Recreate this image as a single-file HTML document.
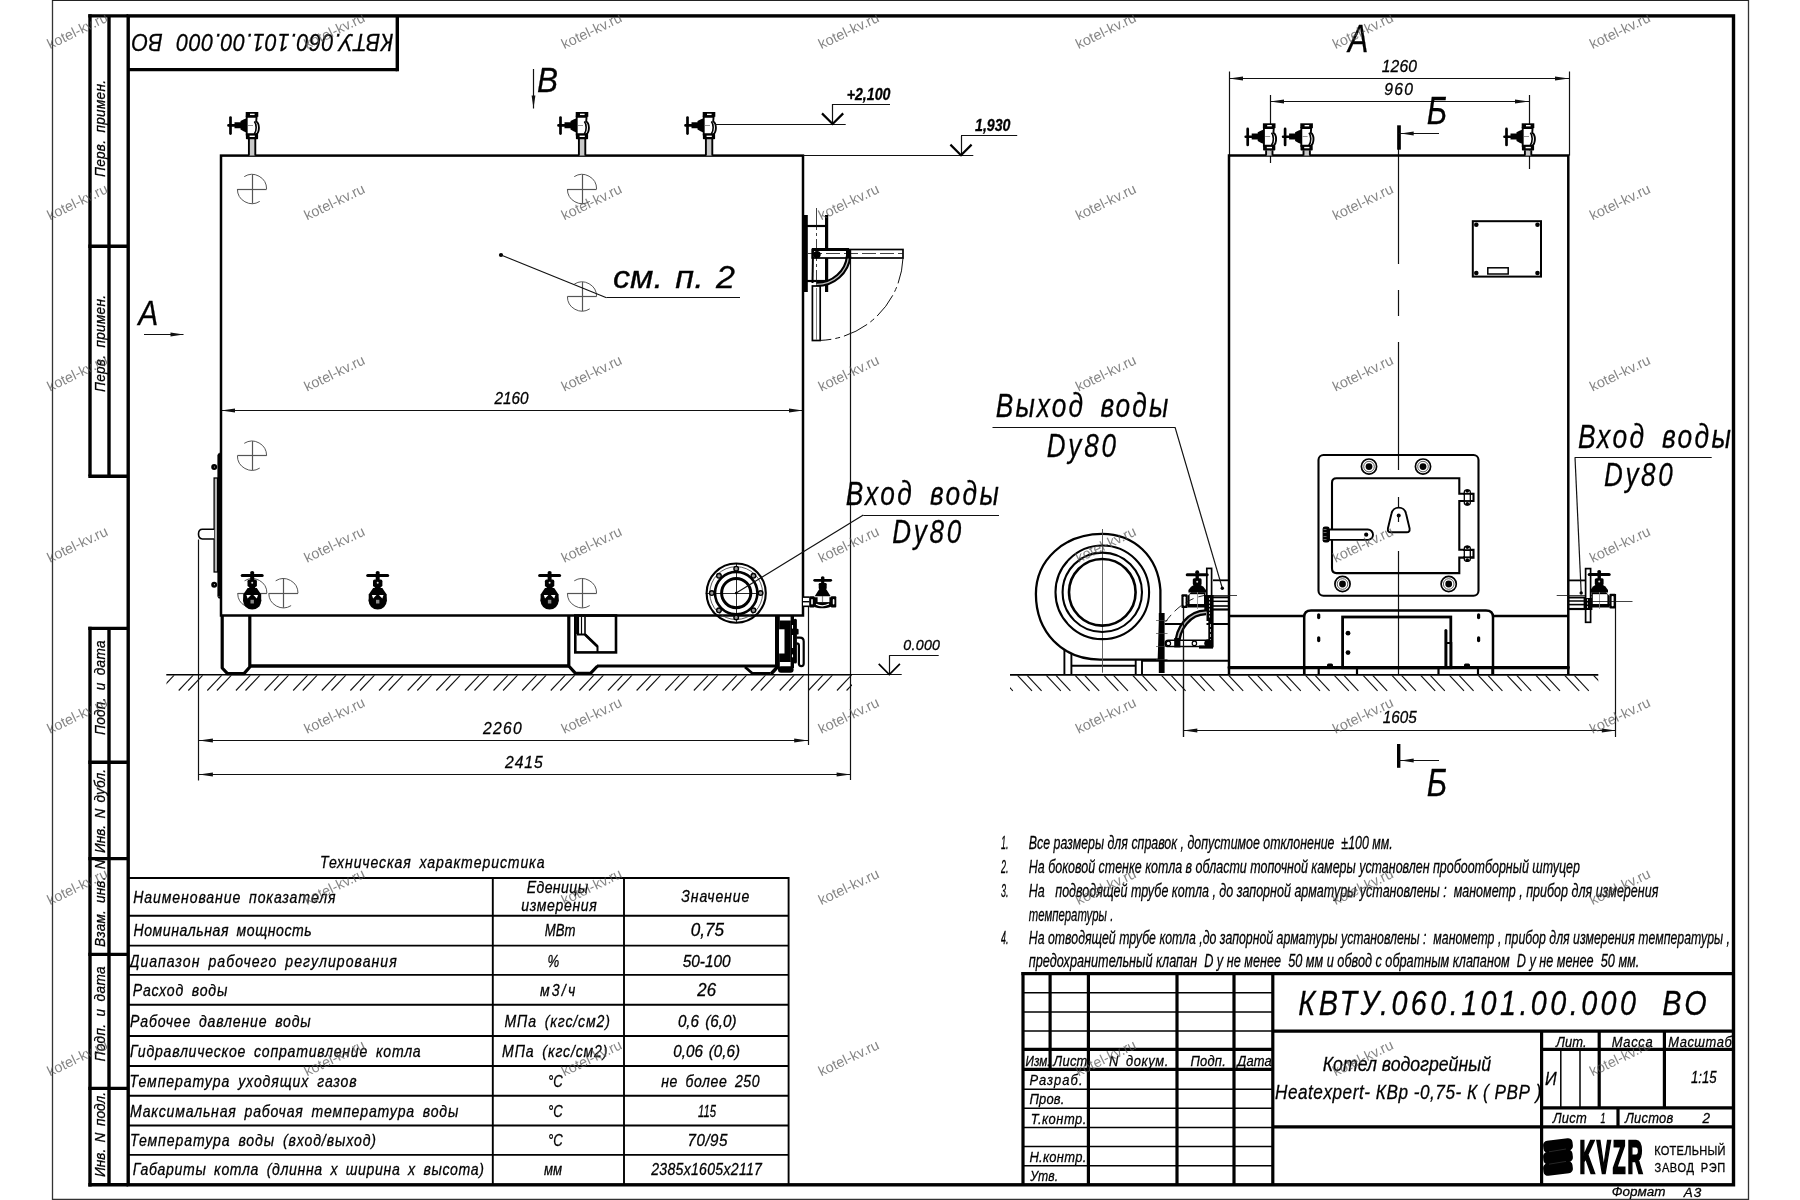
<!DOCTYPE html>
<html lang="ru"><head><meta charset="utf-8"><title>КВТУ.060.101.00.000 ВО</title>
<style>
html,body{margin:0;padding:0;background:#fff;}
body{width:1800px;height:1200px;overflow:hidden;}
svg{display:block;font-family:"Liberation Sans",sans-serif;}
text{white-space:pre;stroke:#000;stroke-width:0.3px;}
#wm text{stroke:none;}
</style></head><body>
<svg width="1800" height="1200" viewBox="0 0 1800 1200">
<rect x="0" y="0" width="1800" height="1200" fill="#fff"/>
<g opacity="0.999">
<line x1="198.50" y1="539.50" x2="198.50" y2="780.50" stroke="#111" stroke-width="1.2" />
<line x1="808.50" y1="607.00" x2="808.50" y2="745.00" stroke="#111" stroke-width="1.2" />
<line x1="850.50" y1="250.00" x2="850.50" y2="780.00" stroke="#111" stroke-width="1.2" />
<line x1="221.00" y1="410.50" x2="803.00" y2="410.50" stroke="#111" stroke-width="1.2" />
<polygon points="221.00,410.50 235.00,408.60 235.00,412.40" fill="#111"/>
<polygon points="803.00,410.50 789.00,412.40 789.00,408.60" fill="#111"/>
<text font-size="16.5" transform="translate(494.50 403.50) scale(0.9262 1)" textLength="36.71" lengthAdjust="spacing" font-style="italic" >2160</text>
<line x1="198.90" y1="740.50" x2="808.20" y2="740.50" stroke="#111" stroke-width="1.2" />
<polygon points="198.90,740.50 212.90,738.60 212.90,742.40" fill="#111"/>
<polygon points="808.20,740.50 794.20,742.40 794.20,738.60" fill="#111"/>
<text font-size="16.5" transform="translate(483.00 734.00) scale(0.9500 1)" textLength="40.74" lengthAdjust="spacing" font-style="italic" >2260</text>
<line x1="198.90" y1="774.50" x2="850.60" y2="774.50" stroke="#111" stroke-width="1.2" />
<polygon points="198.90,774.50 212.90,772.60 212.90,776.40" fill="#111"/>
<polygon points="850.60,774.50 836.60,776.40 836.60,772.60" fill="#111"/>
<text font-size="16.5" transform="translate(505.00 767.70) scale(0.9500 1)" textLength="39.68" lengthAdjust="spacing" font-style="italic" >2415</text>
<path d="M244.26,176.62 A14.6,14.6 0 0 1 266.60,189.00" stroke="#555" stroke-width="1" fill="none" />
<path d="M237.40,189.00 A14.6,14.6 0 0 0 259.74,201.38" stroke="#555" stroke-width="1" fill="none" />
<line x1="237.40" y1="189.50" x2="266.60" y2="189.50" stroke="#555" stroke-width="1.2" />
<line x1="252.50" y1="174.40" x2="252.50" y2="203.60" stroke="#555" stroke-width="1.2" />
<path d="M574.26,176.62 A14.6,14.6 0 0 1 596.60,189.00" stroke="#555" stroke-width="1" fill="none" />
<path d="M567.40,189.00 A14.6,14.6 0 0 0 589.74,201.38" stroke="#555" stroke-width="1" fill="none" />
<line x1="567.40" y1="189.50" x2="596.60" y2="189.50" stroke="#555" stroke-width="1.2" />
<line x1="582.50" y1="174.40" x2="582.50" y2="203.60" stroke="#555" stroke-width="1.2" />
<path d="M574.26,284.12 A14.6,14.6 0 0 1 596.60,296.50" stroke="#555" stroke-width="1" fill="none" />
<path d="M567.40,296.50 A14.6,14.6 0 0 0 589.74,308.88" stroke="#555" stroke-width="1" fill="none" />
<line x1="567.40" y1="296.50" x2="596.60" y2="296.50" stroke="#555" stroke-width="1.2" />
<line x1="582.50" y1="281.90" x2="582.50" y2="311.10" stroke="#555" stroke-width="1.2" />
<path d="M244.26,443.32 A14.6,14.6 0 0 1 266.60,455.70" stroke="#555" stroke-width="1" fill="none" />
<path d="M237.40,455.70 A14.6,14.6 0 0 0 259.74,468.08" stroke="#555" stroke-width="1" fill="none" />
<line x1="237.40" y1="455.50" x2="266.60" y2="455.50" stroke="#555" stroke-width="1.2" />
<line x1="252.50" y1="441.10" x2="252.50" y2="470.30" stroke="#555" stroke-width="1.2" />
<path d="M244.56,580.82 A14.6,14.6 0 0 1 266.90,593.20" stroke="#555" stroke-width="1" fill="none" />
<path d="M237.70,593.20 A14.6,14.6 0 0 0 260.04,605.58" stroke="#555" stroke-width="1" fill="none" />
<line x1="237.70" y1="593.50" x2="266.90" y2="593.50" stroke="#555" stroke-width="1.2" />
<line x1="252.50" y1="578.60" x2="252.50" y2="607.80" stroke="#555" stroke-width="1.2" />
<path d="M275.66,580.82 A14.6,14.6 0 0 1 298.00,593.20" stroke="#555" stroke-width="1" fill="none" />
<path d="M268.80,593.20 A14.6,14.6 0 0 0 291.14,605.58" stroke="#555" stroke-width="1" fill="none" />
<line x1="268.80" y1="593.50" x2="298.00" y2="593.50" stroke="#555" stroke-width="1.2" />
<line x1="283.50" y1="578.60" x2="283.50" y2="607.80" stroke="#555" stroke-width="1.2" />
<path d="M574.26,580.82 A14.6,14.6 0 0 1 596.60,593.20" stroke="#555" stroke-width="1" fill="none" />
<path d="M567.40,593.20 A14.6,14.6 0 0 0 589.74,605.58" stroke="#555" stroke-width="1" fill="none" />
<line x1="567.40" y1="593.50" x2="596.60" y2="593.50" stroke="#555" stroke-width="1.2" />
<line x1="582.50" y1="578.60" x2="582.50" y2="607.80" stroke="#555" stroke-width="1.2" />
<line x1="166.30" y1="674.70" x2="852.00" y2="674.70" stroke="#000" stroke-width="1.6" />
<line x1="852.00" y1="674.50" x2="901.70" y2="674.50" stroke="#111" stroke-width="1.2" />
<clipPath id="h166"><rect x="166.5" y="675.2" width="685.5" height="17.3"/></clipPath><g clip-path="url(#h166)">
<line x1="107.34" y1="675.20" x2="92.84" y2="690.50" stroke="#111" stroke-width="1.1" />
<line x1="116.94" y1="675.20" x2="102.44" y2="690.50" stroke="#111" stroke-width="1.1" />
<line x1="135.96" y1="675.20" x2="121.46" y2="690.50" stroke="#111" stroke-width="1.1" />
<line x1="145.56" y1="675.20" x2="131.06" y2="690.50" stroke="#111" stroke-width="1.1" />
<line x1="164.58" y1="675.20" x2="150.08" y2="690.50" stroke="#111" stroke-width="1.1" />
<line x1="174.18" y1="675.20" x2="159.68" y2="690.50" stroke="#111" stroke-width="1.1" />
<line x1="193.20" y1="675.20" x2="178.70" y2="690.50" stroke="#111" stroke-width="1.1" />
<line x1="202.80" y1="675.20" x2="188.30" y2="690.50" stroke="#111" stroke-width="1.1" />
<line x1="221.82" y1="675.20" x2="207.32" y2="690.50" stroke="#111" stroke-width="1.1" />
<line x1="231.42" y1="675.20" x2="216.92" y2="690.50" stroke="#111" stroke-width="1.1" />
<line x1="250.44" y1="675.20" x2="235.94" y2="690.50" stroke="#111" stroke-width="1.1" />
<line x1="260.04" y1="675.20" x2="245.54" y2="690.50" stroke="#111" stroke-width="1.1" />
<line x1="279.06" y1="675.20" x2="264.56" y2="690.50" stroke="#111" stroke-width="1.1" />
<line x1="288.66" y1="675.20" x2="274.16" y2="690.50" stroke="#111" stroke-width="1.1" />
<line x1="307.68" y1="675.20" x2="293.18" y2="690.50" stroke="#111" stroke-width="1.1" />
<line x1="317.28" y1="675.20" x2="302.78" y2="690.50" stroke="#111" stroke-width="1.1" />
<line x1="336.30" y1="675.20" x2="321.80" y2="690.50" stroke="#111" stroke-width="1.1" />
<line x1="345.90" y1="675.20" x2="331.40" y2="690.50" stroke="#111" stroke-width="1.1" />
<line x1="364.92" y1="675.20" x2="350.42" y2="690.50" stroke="#111" stroke-width="1.1" />
<line x1="374.52" y1="675.20" x2="360.02" y2="690.50" stroke="#111" stroke-width="1.1" />
<line x1="393.54" y1="675.20" x2="379.04" y2="690.50" stroke="#111" stroke-width="1.1" />
<line x1="403.14" y1="675.20" x2="388.64" y2="690.50" stroke="#111" stroke-width="1.1" />
<line x1="422.16" y1="675.20" x2="407.66" y2="690.50" stroke="#111" stroke-width="1.1" />
<line x1="431.76" y1="675.20" x2="417.26" y2="690.50" stroke="#111" stroke-width="1.1" />
<line x1="450.78" y1="675.20" x2="436.28" y2="690.50" stroke="#111" stroke-width="1.1" />
<line x1="460.38" y1="675.20" x2="445.88" y2="690.50" stroke="#111" stroke-width="1.1" />
<line x1="479.40" y1="675.20" x2="464.90" y2="690.50" stroke="#111" stroke-width="1.1" />
<line x1="489.00" y1="675.20" x2="474.50" y2="690.50" stroke="#111" stroke-width="1.1" />
<line x1="508.02" y1="675.20" x2="493.52" y2="690.50" stroke="#111" stroke-width="1.1" />
<line x1="517.62" y1="675.20" x2="503.12" y2="690.50" stroke="#111" stroke-width="1.1" />
<line x1="536.64" y1="675.20" x2="522.14" y2="690.50" stroke="#111" stroke-width="1.1" />
<line x1="546.24" y1="675.20" x2="531.74" y2="690.50" stroke="#111" stroke-width="1.1" />
<line x1="565.26" y1="675.20" x2="550.76" y2="690.50" stroke="#111" stroke-width="1.1" />
<line x1="574.86" y1="675.20" x2="560.36" y2="690.50" stroke="#111" stroke-width="1.1" />
<line x1="593.88" y1="675.20" x2="579.38" y2="690.50" stroke="#111" stroke-width="1.1" />
<line x1="603.48" y1="675.20" x2="588.98" y2="690.50" stroke="#111" stroke-width="1.1" />
<line x1="622.50" y1="675.20" x2="608.00" y2="690.50" stroke="#111" stroke-width="1.1" />
<line x1="632.10" y1="675.20" x2="617.60" y2="690.50" stroke="#111" stroke-width="1.1" />
<line x1="651.12" y1="675.20" x2="636.62" y2="690.50" stroke="#111" stroke-width="1.1" />
<line x1="660.72" y1="675.20" x2="646.22" y2="690.50" stroke="#111" stroke-width="1.1" />
<line x1="679.74" y1="675.20" x2="665.24" y2="690.50" stroke="#111" stroke-width="1.1" />
<line x1="689.34" y1="675.20" x2="674.84" y2="690.50" stroke="#111" stroke-width="1.1" />
<line x1="708.36" y1="675.20" x2="693.86" y2="690.50" stroke="#111" stroke-width="1.1" />
<line x1="717.96" y1="675.20" x2="703.46" y2="690.50" stroke="#111" stroke-width="1.1" />
<line x1="736.98" y1="675.20" x2="722.48" y2="690.50" stroke="#111" stroke-width="1.1" />
<line x1="746.58" y1="675.20" x2="732.08" y2="690.50" stroke="#111" stroke-width="1.1" />
<line x1="765.60" y1="675.20" x2="751.10" y2="690.50" stroke="#111" stroke-width="1.1" />
<line x1="775.20" y1="675.20" x2="760.70" y2="690.50" stroke="#111" stroke-width="1.1" />
<line x1="794.22" y1="675.20" x2="779.72" y2="690.50" stroke="#111" stroke-width="1.1" />
<line x1="803.82" y1="675.20" x2="789.32" y2="690.50" stroke="#111" stroke-width="1.1" />
<line x1="822.84" y1="675.20" x2="808.34" y2="690.50" stroke="#111" stroke-width="1.1" />
<line x1="832.44" y1="675.20" x2="817.94" y2="690.50" stroke="#111" stroke-width="1.1" />
<line x1="851.46" y1="675.20" x2="836.96" y2="690.50" stroke="#111" stroke-width="1.1" />
<line x1="861.06" y1="675.20" x2="846.56" y2="690.50" stroke="#111" stroke-width="1.1" />
<line x1="880.08" y1="675.20" x2="865.58" y2="690.50" stroke="#111" stroke-width="1.1" />
<line x1="889.68" y1="675.20" x2="875.18" y2="690.50" stroke="#111" stroke-width="1.1" />
<line x1="908.70" y1="675.20" x2="894.20" y2="690.50" stroke="#111" stroke-width="1.1" />
<line x1="918.30" y1="675.20" x2="903.80" y2="690.50" stroke="#111" stroke-width="1.1" />
</g>
<rect x="221.00" y="155.60" width="582.00" height="459.90" rx="0" stroke="#000" stroke-width="2.5" fill="none" />
<line x1="803.00" y1="155.50" x2="973.30" y2="155.50" stroke="#111" stroke-width="1.2" />
<rect x="248.90" y="139.00" width="6.40" height="16.60" rx="0" stroke="none" stroke-width="0" fill="#c8c8c8" />
<line x1="248.90" y1="139.00" x2="248.90" y2="155.60" stroke="#000" stroke-width="1.9" />
<line x1="255.30" y1="139.00" x2="255.30" y2="155.60" stroke="#000" stroke-width="1.9" />
<rect x="245.70" y="112.00" width="12.60" height="4.80" rx="0" stroke="none" stroke-width="0" fill="#000" />
<rect x="250.00" y="113.70" width="4.60" height="1.40" rx="0" stroke="none" stroke-width="0" fill="#fff" />
<path d="M246.7,116.8 L246.7,134.5 L256.2,134.5 C259.8,132 259.8,123.5 256.2,121.5 L256.6,116.8 Z" stroke="#000" stroke-width="1.9" fill="#fff" />
<path d="M254.3,121.5 C256.8,124 256.8,131 254.3,134" stroke="#000" stroke-width="1.6" fill="none" />
<line x1="248.00" y1="125.50" x2="253.00" y2="125.50" stroke="#777" stroke-width="0.8" />
<rect x="245.90" y="133.60" width="12.20" height="5.60" rx="0.8" stroke="none" stroke-width="0" fill="#000" />
<rect x="249.60" y="135.60" width="5.20" height="1.40" rx="0" stroke="none" stroke-width="0" fill="#fff" />
<polygon points="247,118.2 247,132.8 244,131.6 240.5,129.6 240.5,128.2 234.5,128.2 234.5,122.2 240.5,122.2 240.5,121 244,119.2" fill="#000"/>
<rect x="227.20" y="124.10" width="8.80" height="2.60" rx="1.2" stroke="none" stroke-width="0" fill="#000" />
<line x1="230.50" y1="117.60" x2="230.50" y2="133.60" stroke="#000" stroke-width="2.7" stroke-linecap="round"/>
<rect x="578.90" y="139.00" width="6.40" height="16.60" rx="0" stroke="none" stroke-width="0" fill="#c8c8c8" />
<line x1="578.90" y1="139.00" x2="578.90" y2="155.60" stroke="#000" stroke-width="1.9" />
<line x1="585.30" y1="139.00" x2="585.30" y2="155.60" stroke="#000" stroke-width="1.9" />
<rect x="575.70" y="112.00" width="12.60" height="4.80" rx="0" stroke="none" stroke-width="0" fill="#000" />
<rect x="580.00" y="113.70" width="4.60" height="1.40" rx="0" stroke="none" stroke-width="0" fill="#fff" />
<path d="M576.7,116.8 L576.7,134.5 L586.2,134.5 C589.8,132 589.8,123.5 586.2,121.5 L586.6,116.8 Z" stroke="#000" stroke-width="1.9" fill="#fff" />
<path d="M584.3,121.5 C586.8,124 586.8,131 584.3,134" stroke="#000" stroke-width="1.6" fill="none" />
<line x1="578.00" y1="125.50" x2="583.00" y2="125.50" stroke="#777" stroke-width="0.8" />
<rect x="575.90" y="133.60" width="12.20" height="5.60" rx="0.8" stroke="none" stroke-width="0" fill="#000" />
<rect x="579.60" y="135.60" width="5.20" height="1.40" rx="0" stroke="none" stroke-width="0" fill="#fff" />
<polygon points="577,118.2 577,132.8 574,131.6 570.5,129.6 570.5,128.2 564.5,128.2 564.5,122.2 570.5,122.2 570.5,121 574,119.2" fill="#000"/>
<rect x="557.20" y="124.10" width="8.80" height="2.60" rx="1.2" stroke="none" stroke-width="0" fill="#000" />
<line x1="560.50" y1="117.60" x2="560.50" y2="133.60" stroke="#000" stroke-width="2.7" stroke-linecap="round"/>
<rect x="705.90" y="139.00" width="6.40" height="16.60" rx="0" stroke="none" stroke-width="0" fill="#c8c8c8" />
<line x1="705.90" y1="139.00" x2="705.90" y2="155.60" stroke="#000" stroke-width="1.9" />
<line x1="712.30" y1="139.00" x2="712.30" y2="155.60" stroke="#000" stroke-width="1.9" />
<rect x="702.70" y="112.00" width="12.60" height="4.80" rx="0" stroke="none" stroke-width="0" fill="#000" />
<rect x="707.00" y="113.70" width="4.60" height="1.40" rx="0" stroke="none" stroke-width="0" fill="#fff" />
<path d="M703.7,116.8 L703.7,134.5 L713.2,134.5 C716.8,132 716.8,123.5 713.2,121.5 L713.6,116.8 Z" stroke="#000" stroke-width="1.9" fill="#fff" />
<path d="M711.3,121.5 C713.8,124 713.8,131 711.3,134" stroke="#000" stroke-width="1.6" fill="none" />
<line x1="705.00" y1="125.50" x2="710.00" y2="125.50" stroke="#777" stroke-width="0.8" />
<rect x="702.90" y="133.60" width="12.20" height="5.60" rx="0.8" stroke="none" stroke-width="0" fill="#000" />
<rect x="706.60" y="135.60" width="5.20" height="1.40" rx="0" stroke="none" stroke-width="0" fill="#fff" />
<polygon points="704,118.2 704,132.8 701,131.6 697.5,129.6 697.5,128.2 691.5,128.2 691.5,122.2 697.5,122.2 697.5,121 701,119.2" fill="#000"/>
<rect x="684.20" y="124.10" width="8.80" height="2.60" rx="1.2" stroke="none" stroke-width="0" fill="#000" />
<line x1="687.50" y1="117.60" x2="687.50" y2="133.60" stroke="#000" stroke-width="2.7" stroke-linecap="round"/>
<line x1="715.00" y1="124.50" x2="845.70" y2="124.50" stroke="#111" stroke-width="1.2" />
<line x1="832.50" y1="124.40" x2="832.50" y2="104.00" stroke="#111" stroke-width="1.2" />
<line x1="832.60" y1="104.50" x2="890.00" y2="104.50" stroke="#111" stroke-width="1.2" />
<path d="M822.0,113.4 L832.6,124.0 L843.2,113.4" stroke="#000" stroke-width="2.2" fill="none" />
<text font-size="16" transform="translate(846.70 99.60) scale(0.8869 1)" textLength="49.38" lengthAdjust="spacing" font-style="italic" font-weight="bold" >+2,100</text>
<line x1="961.50" y1="155.60" x2="961.50" y2="135.80" stroke="#111" stroke-width="1.2" />
<line x1="961.00" y1="135.50" x2="1017.20" y2="135.50" stroke="#111" stroke-width="1.2" />
<path d="M950.4,144.6 L961,155.2 L971.6,144.6" stroke="#000" stroke-width="2.2" fill="none" />
<text font-size="16" transform="translate(975.00 130.80) scale(0.8866 1)" textLength="40.04" lengthAdjust="spacing" font-style="italic" font-weight="bold" >1,930</text>
<circle cx="252.20" cy="573.10" r="2.10" stroke="none" stroke-width="0" fill="#000" />
<line x1="242.20" y1="575.50" x2="262.20" y2="575.50" stroke="#000" stroke-width="3" stroke-linecap="round"/>
<rect x="250.20" y="575.50" width="4.00" height="5.00" rx="0" stroke="none" stroke-width="0" fill="#000" />
<rect x="247.50" y="579.60" width="9.40" height="7.30" rx="1.6" stroke="none" stroke-width="0" fill="#000" />
<circle cx="252.20" cy="582.80" r="1.00" stroke="none" stroke-width="0" fill="#ddd" />
<rect x="249.20" y="586.00" width="6.00" height="3.50" rx="0" stroke="none" stroke-width="0" fill="#000" />
<polygon points="247.6,588.1 256.8,588.1 261.2,594.5 261.2,601.5 243.2,601.5 243.2,594.5" fill="#000"/>
<circle cx="252.20" cy="600.50" r="9.10" stroke="none" stroke-width="0" fill="#000" />
<polygon points="246.39999999999998,595.1 251.0,595.1 247.6,598.5" fill="#fff"/>
<polygon points="258.0,595.1 253.39999999999998,595.1 256.8,598.5" fill="#fff"/>
<rect x="250.50" y="599.80" width="3.40" height="3.70" rx="0" stroke="none" stroke-width="0" fill="#8a8a8a" />
<circle cx="377.70" cy="573.10" r="2.10" stroke="none" stroke-width="0" fill="#000" />
<line x1="367.70" y1="575.50" x2="387.70" y2="575.50" stroke="#000" stroke-width="3" stroke-linecap="round"/>
<rect x="375.70" y="575.50" width="4.00" height="5.00" rx="0" stroke="none" stroke-width="0" fill="#000" />
<rect x="373.00" y="579.60" width="9.40" height="7.30" rx="1.6" stroke="none" stroke-width="0" fill="#000" />
<circle cx="377.70" cy="582.80" r="1.00" stroke="none" stroke-width="0" fill="#ddd" />
<rect x="374.70" y="586.00" width="6.00" height="3.50" rx="0" stroke="none" stroke-width="0" fill="#000" />
<polygon points="373.09999999999997,588.1 382.3,588.1 386.7,594.5 386.7,601.5 368.7,601.5 368.7,594.5" fill="#000"/>
<circle cx="377.70" cy="600.50" r="9.10" stroke="none" stroke-width="0" fill="#000" />
<polygon points="371.9,595.1 376.5,595.1 373.09999999999997,598.5" fill="#fff"/>
<polygon points="383.5,595.1 378.9,595.1 382.3,598.5" fill="#fff"/>
<rect x="376.00" y="599.80" width="3.40" height="3.70" rx="0" stroke="none" stroke-width="0" fill="#8a8a8a" />
<circle cx="549.60" cy="573.10" r="2.10" stroke="none" stroke-width="0" fill="#000" />
<line x1="539.60" y1="575.50" x2="559.60" y2="575.50" stroke="#000" stroke-width="3" stroke-linecap="round"/>
<rect x="547.60" y="575.50" width="4.00" height="5.00" rx="0" stroke="none" stroke-width="0" fill="#000" />
<rect x="544.90" y="579.60" width="9.40" height="7.30" rx="1.6" stroke="none" stroke-width="0" fill="#000" />
<circle cx="549.60" cy="582.80" r="1.00" stroke="none" stroke-width="0" fill="#ddd" />
<rect x="546.60" y="586.00" width="6.00" height="3.50" rx="0" stroke="none" stroke-width="0" fill="#000" />
<polygon points="545.0,588.1 554.2,588.1 558.6,594.5 558.6,601.5 540.6,601.5 540.6,594.5" fill="#000"/>
<circle cx="549.60" cy="600.50" r="9.10" stroke="none" stroke-width="0" fill="#000" />
<polygon points="543.8000000000001,595.1 548.4,595.1 545.0,598.5" fill="#fff"/>
<polygon points="555.4,595.1 550.8000000000001,595.1 554.2,598.5" fill="#fff"/>
<rect x="547.90" y="599.80" width="3.40" height="3.70" rx="0" stroke="none" stroke-width="0" fill="#8a8a8a" />
<path d="M222.2,615.5 L222.2,668 L227.5,673.6 L244,673.6 L249.8,667 L249.8,615.5" stroke="#000" stroke-width="3.2" fill="none" stroke-linejoin="round"/>
<line x1="249.80" y1="666.00" x2="568.80" y2="666.00" stroke="#000" stroke-width="3.4" />
<line x1="597.00" y1="666.00" x2="776.00" y2="666.00" stroke="#000" stroke-width="3.2" />
<path d="M568.8,615.5 L568.8,666 L575.5,673.4 L590.5,673.4 L597.5,666" stroke="#000" stroke-width="3.2" fill="none" stroke-linejoin="round"/>
<rect x="575.30" y="615.50" width="40.70" height="36.90" rx="0" stroke="#000" stroke-width="2.6" fill="none" />
<line x1="577.60" y1="617.00" x2="577.60" y2="634.00" stroke="#000" stroke-width="3" />
<line x1="581.50" y1="617.00" x2="581.50" y2="634.00" stroke="#000" stroke-width="1.2" />
<line x1="585.00" y1="617.00" x2="585.00" y2="634.00" stroke="#000" stroke-width="1.6" />
<path d="M577,634.5 L585,634.5 L597.5,646.5 L597.5,652" stroke="#000" stroke-width="2" fill="none" />
<path d="M585,634.5 L597.5,646.5" stroke="#000" stroke-width="2.6" fill="none" />
<path d="M745,667 L752.5,673.5 L770.5,673.5" stroke="#000" stroke-width="2.8" fill="none" stroke-linejoin="round"/>
<rect x="775.00" y="615.50" width="4.80" height="53.00" rx="0" stroke="none" stroke-width="0" fill="#000" />
<path d="M777.4,667 L771,674" stroke="#000" stroke-width="3.4" fill="none" />
<rect x="779.60" y="620.50" width="11.20" height="41.50" rx="0" stroke="none" stroke-width="0" fill="#000" />
<rect x="778.60" y="629.30" width="5.90" height="24.20" rx="0" stroke="none" stroke-width="0" fill="#fff" />
<rect x="775.00" y="616.00" width="4.00" height="52.00" rx="0" stroke="none" stroke-width="0" fill="#000" />
<rect x="790.60" y="616.00" width="3.40" height="52.00" rx="0" stroke="none" stroke-width="0" fill="#000" />
<rect x="793.60" y="618.80" width="3.30" height="44.80" rx="1.5" stroke="none" stroke-width="0" fill="#000" />
<rect x="796.00" y="628.80" width="2.60" height="5.80" rx="1.2" stroke="none" stroke-width="0" fill="#000" />
<line x1="792.50" y1="625.00" x2="792.50" y2="628.60" stroke="#fff" stroke-width="1.1" />
<line x1="792.50" y1="635.00" x2="792.50" y2="648.00" stroke="#fff" stroke-width="1.1" />
<line x1="792.50" y1="654.40" x2="792.50" y2="657.30" stroke="#fff" stroke-width="1.1" />
<path d="M796.5,637.7 L800,637.7 Q803.7,637.7 803.7,641.6 L803.7,663.6 Q803.7,666.2 801.3,666.2 Q798.9,666.2 798.9,663.6 L798.9,645.4 Q798.9,643.3 796.5,643.3" stroke="#000" stroke-width="2.2" fill="none" />
<rect x="778.00" y="666.30" width="15.60" height="6.50" rx="3" stroke="none" stroke-width="0" fill="#000" />
<line x1="705.70" y1="593.50" x2="757.20" y2="593.50" stroke="#111" stroke-width="0.9" />
<line x1="736.50" y1="563.60" x2="736.50" y2="622.60" stroke="#111" stroke-width="0.9" />
<circle cx="736.20" cy="593.10" r="29.60" stroke="#000" stroke-width="2.1" fill="none" />
<circle cx="736.20" cy="593.10" r="26.40" stroke="#333" stroke-width="0.8" fill="none" />
<circle cx="736.20" cy="593.10" r="21.20" stroke="#000" stroke-width="2.6" fill="none" />
<circle cx="736.20" cy="593.10" r="14.60" stroke="#000" stroke-width="3" fill="none" />
<circle cx="760.60" cy="593.10" r="2.30" stroke="#000" stroke-width="1.4" fill="#999" />
<circle cx="753.45" cy="610.35" r="2.30" stroke="#000" stroke-width="1.4" fill="#999" />
<circle cx="736.20" cy="617.50" r="2.30" stroke="#000" stroke-width="1.4" fill="#999" />
<circle cx="718.95" cy="610.35" r="2.30" stroke="#000" stroke-width="1.4" fill="#999" />
<circle cx="711.80" cy="593.10" r="2.30" stroke="#000" stroke-width="1.4" fill="#999" />
<circle cx="718.95" cy="575.85" r="2.30" stroke="#000" stroke-width="1.4" fill="#999" />
<circle cx="736.20" cy="568.70" r="2.30" stroke="#000" stroke-width="1.4" fill="#999" />
<circle cx="753.45" cy="575.85" r="2.30" stroke="#000" stroke-width="1.4" fill="#999" />
<line x1="736.20" y1="593.10" x2="863.30" y2="515.00" stroke="#111" stroke-width="1.2" />
<line x1="863.30" y1="515.50" x2="999.00" y2="515.50" stroke="#111" stroke-width="1.2" />
<circle cx="736.20" cy="593.10" r="1.30" stroke="none" stroke-width="0" fill="#000" />
<text font-size="32.8" word-spacing="7.22" transform="translate(845.80 505.20) scale(0.8000 1)" textLength="191.38" lengthAdjust="spacing" font-style="italic" >Вход воды</text>
<text font-size="32.5" transform="translate(892.20 543.30) scale(0.8000 1)" textLength="86.12" lengthAdjust="spacing" font-style="italic" >Dy80</text>
<rect x="803.00" y="597.10" width="6.50" height="9.20" rx="0" stroke="none" stroke-width="0" fill="#fff" />
<line x1="803.00" y1="597.10" x2="809.50" y2="597.10" stroke="#000" stroke-width="1.6" />
<line x1="803.00" y1="606.30" x2="809.50" y2="606.30" stroke="#000" stroke-width="1.6" />
<line x1="803.00" y1="601.70" x2="809.50" y2="601.70" stroke="#000" stroke-width="1.4" />
<rect x="809.20" y="596.20" width="5.40" height="11.30" rx="1" stroke="none" stroke-width="0" fill="#000" />
<rect x="811.20" y="599.10" width="1.60" height="5.40" rx="0.8" stroke="none" stroke-width="0" fill="#fff" />
<rect x="830.80" y="596.20" width="5.50" height="11.30" rx="1" stroke="none" stroke-width="0" fill="#000" />
<rect x="832.80" y="599.10" width="1.60" height="5.40" rx="0.8" stroke="none" stroke-width="0" fill="#fff" />
<path d="M814,597.2 L831,597.2 L831,606.7 C825,608.9000000000001 819,608.9000000000001 814,606.7 Z" stroke="none" stroke-width="0" fill="#000" />
<rect x="817.60" y="596.10" width="11.80" height="6.00" rx="0" stroke="none" stroke-width="0" fill="#fff" />
<line x1="822.50" y1="596.10" x2="822.50" y2="602.10" stroke="#888" stroke-width="1.2" />
<path d="M816,604.3000000000001 C820,606.3000000000001 825,606.1 829,604.1" stroke="#fff" stroke-width="1.1" fill="none" />
<polygon points="820.1,587.7 825.3000000000001,587.7 830.7,596.2 814.7,596.2" fill="#000"/>
<rect x="818.70" y="583.10" width="8.00" height="6.00" rx="1.2" stroke="none" stroke-width="0" fill="#000" />
<rect x="821.10" y="580.20" width="3.20" height="4.50" rx="0" stroke="none" stroke-width="0" fill="#000" />
<line x1="814.70" y1="580.30" x2="830.70" y2="580.30" stroke="#000" stroke-width="2.8" stroke-linecap="round"/>
<circle cx="822.70" cy="578.10" r="1.90" stroke="none" stroke-width="0" fill="#000" />
<line x1="889.50" y1="674.90" x2="889.50" y2="655.30" stroke="#111" stroke-width="1.2" />
<line x1="889.30" y1="655.50" x2="938.70" y2="655.50" stroke="#111" stroke-width="1.2" />
<path d="M878.6999999999999,663.9 L889.3,674.5 L899.9,663.9" stroke="#000" stroke-width="1.7" fill="none" />
<text font-size="15" transform="translate(903.30 650.00) scale(0.9500 1)" textLength="38.63" lengthAdjust="spacing" font-style="italic" >0.000</text>
<rect x="217.40" y="455.00" width="3.60" height="141.70" rx="0" stroke="none" stroke-width="0" fill="#000" />
<path d="M217.4,455 L219.2,452.5 L221,455 Z M217.4,596.7 L219.2,599 L221,596.7 Z" stroke="none" stroke-width="0" fill="#000" />
<rect x="214.10" y="478.00" width="3.50" height="94.00" rx="0" stroke="#000" stroke-width="1.3" fill="#bbb" />
<circle cx="214.20" cy="467.00" r="3.00" stroke="none" stroke-width="0" fill="#000" />
<circle cx="214.20" cy="584.70" r="3.00" stroke="none" stroke-width="0" fill="#000" />
<circle cx="214.40" cy="467.00" r="0.60" stroke="none" stroke-width="0" fill="#ccc" />
<circle cx="214.40" cy="584.70" r="0.60" stroke="none" stroke-width="0" fill="#ccc" />
<path d="M214.1,529.3 L202.4,529.3 Q198.5,529.3 198.5,534.1 Q198.5,539 202.4,539 L214.1,539" stroke="#000" stroke-width="1.6" fill="#fff" />
<rect x="803.00" y="215.00" width="4.80" height="77.00" rx="0" stroke="none" stroke-width="0" fill="#000" />
<rect x="825.00" y="215.00" width="3.20" height="77.00" rx="0" stroke="none" stroke-width="0" fill="#000" />
<line x1="807.00" y1="226.00" x2="826.00" y2="226.00" stroke="#000" stroke-width="2.2" />
<line x1="807.00" y1="281.00" x2="826.00" y2="281.00" stroke="#000" stroke-width="2.2" />
<line x1="816.50" y1="208.00" x2="816.50" y2="286.00" stroke="#111" stroke-width="0.8" stroke-dasharray="22 3 3 3"/>
<rect x="812.20" y="249.50" width="90.80" height="8.50" rx="0" stroke="#000" stroke-width="1.7" fill="#fff" />
<line x1="850.00" y1="249.50" x2="850.00" y2="258.00" stroke="#000" stroke-width="1.7" />
<line x1="808.00" y1="253.50" x2="903.00" y2="253.50" stroke="#111" stroke-width="0.8" stroke-dasharray="14 4"/>
<path d="M812,249.5 L849,249.5" stroke="#000" stroke-width="3" fill="none" />
<path d="M848.6,256 A32,31 0 0 1 816.5,284.4" stroke="#000" stroke-width="5.4" fill="none" />
<path d="M848.6,256 A32,31 0 0 1 816.5,284.4" stroke="#bbb" stroke-width="1.3" fill="none" />
<rect x="846.00" y="249.50" width="5.20" height="9.10" rx="0" stroke="none" stroke-width="0" fill="#000" />
<circle cx="817.00" cy="254.60" r="2.80" stroke="#000" stroke-width="1.8" fill="#000" />
<path d="M813,250 L812.5,283" stroke="#000" stroke-width="2" fill="none" />
<rect x="812.40" y="286.00" width="7.80" height="54.50" rx="0" stroke="#000" stroke-width="1.7" fill="#fff" />
<line x1="816.50" y1="288.00" x2="816.50" y2="340.00" stroke="#666" stroke-width="0.8" />
<path d="M903,258 A86,86 0 0 1 820.5,340.4" stroke="#111" stroke-width="1" fill="none" stroke-dasharray="26 4 5 4"/>
<circle cx="501.00" cy="255.00" r="2.10" stroke="none" stroke-width="0" fill="#000" />
<line x1="501.00" y1="255.00" x2="606.50" y2="297.70" stroke="#111" stroke-width="1.2" />
<line x1="606.50" y1="297.50" x2="740.00" y2="297.50" stroke="#111" stroke-width="1.2" />
<text font-size="30.5" word-spacing="2.56" transform="translate(613.00 288.00) scale(1.1200 1)" textLength="108.93" lengthAdjust="spacing" font-style="italic" >см. п. 2</text>
<text font-size="35.5" transform="translate(138.30 325.00) scale(0.8446 1)" textLength="23.68" lengthAdjust="spacing" font-style="italic" >А</text>
<line x1="144.00" y1="334.50" x2="183.50" y2="334.50" stroke="#111" stroke-width="1.2" />
<polygon points="183.50,334.50 170.50,336.40 170.50,332.60" fill="#111"/>
<text font-size="35.5" transform="translate(537.00 92.00) scale(0.8868 1)" textLength="23.68" lengthAdjust="spacing" font-style="italic" >В</text>
<line x1="533.50" y1="69.00" x2="533.50" y2="108.50" stroke="#111" stroke-width="1.2" />
<polygon points="533.50,108.50 531.60,95.50 535.40,95.50" fill="#111"/>
<line x1="1229.50" y1="71.50" x2="1229.50" y2="155.60" stroke="#111" stroke-width="1.2" />
<line x1="1569.50" y1="71.50" x2="1569.50" y2="155.60" stroke="#111" stroke-width="1.2" />
<line x1="1270.50" y1="95.00" x2="1270.50" y2="163.00" stroke="#111" stroke-width="1.2" />
<line x1="1529.50" y1="95.00" x2="1529.50" y2="169.00" stroke="#111" stroke-width="1.2" />
<line x1="1229.00" y1="78.50" x2="1569.00" y2="78.50" stroke="#111" stroke-width="1.2" />
<polygon points="1229.00,78.50 1243.00,76.60 1243.00,80.40" fill="#111"/>
<polygon points="1569.00,78.50 1555.00,80.40 1555.00,76.60" fill="#111"/>
<text font-size="16.5" transform="translate(1381.70 71.50) scale(0.9500 1)" textLength="37.16" lengthAdjust="spacing" font-style="italic" >1260</text>
<line x1="1270.00" y1="101.50" x2="1529.00" y2="101.50" stroke="#111" stroke-width="1.2" />
<polygon points="1270.00,101.50 1284.00,99.60 1284.00,103.40" fill="#111"/>
<polygon points="1529.00,101.50 1515.00,103.40 1515.00,99.60" fill="#111"/>
<text font-size="16.5" transform="translate(1384.30 95.30) scale(0.9500 1)" textLength="30.21" lengthAdjust="spacing" font-style="italic" >960</text>
<text font-size="38" transform="translate(1348.00 52.00) scale(0.8009 1)" textLength="25.35" lengthAdjust="spacing" font-style="italic" >А</text>
<line x1="1398.50" y1="149.00" x2="1398.50" y2="264.00" stroke="#111" stroke-width="1.2" />
<line x1="1398.50" y1="290.00" x2="1398.50" y2="316.00" stroke="#111" stroke-width="1.2" />
<line x1="1398.50" y1="342.00" x2="1398.50" y2="470.00" stroke="#111" stroke-width="1.2" />
<line x1="1398.50" y1="497.00" x2="1398.50" y2="524.00" stroke="#111" stroke-width="1.2" />
<line x1="1398.50" y1="551.00" x2="1398.50" y2="674.50" stroke="#111" stroke-width="1.2" />
<line x1="1399.00" y1="125.30" x2="1399.00" y2="149.70" stroke="#000" stroke-width="3.7" />
<line x1="1398.70" y1="133.50" x2="1439.00" y2="133.50" stroke="#111" stroke-width="1.2" />
<polygon points="1400.70,133.50 1413.70,131.60 1413.70,135.40" fill="#111"/>
<text font-size="38" transform="translate(1426.70 124.00) scale(0.8208 1)" textLength="24.73" lengthAdjust="spacing" font-style="italic" >Б</text>
<line x1="1398.70" y1="744.00" x2="1398.70" y2="767.80" stroke="#000" stroke-width="3.4" />
<line x1="1398.70" y1="760.50" x2="1439.00" y2="760.50" stroke="#111" stroke-width="1.2" />
<polygon points="1400.70,760.50 1413.70,758.60 1413.70,762.40" fill="#111"/>
<text font-size="38" transform="translate(1426.70 795.80) scale(0.8208 1)" textLength="24.73" lengthAdjust="spacing" font-style="italic" >Б</text>
<line x1="1010.00" y1="674.80" x2="1598.30" y2="674.80" stroke="#000" stroke-width="1.7" />
<clipPath id="h1010"><rect x="1010" y="675.3" width="588.3" height="17.5"/></clipPath><g clip-path="url(#h1010)">
<line x1="931.10" y1="675.30" x2="945.60" y2="690.80" stroke="#111" stroke-width="1.1" />
<line x1="940.70" y1="675.30" x2="955.20" y2="690.80" stroke="#111" stroke-width="1.1" />
<line x1="959.90" y1="675.30" x2="974.40" y2="690.80" stroke="#111" stroke-width="1.1" />
<line x1="969.50" y1="675.30" x2="984.00" y2="690.80" stroke="#111" stroke-width="1.1" />
<line x1="988.70" y1="675.30" x2="1003.20" y2="690.80" stroke="#111" stroke-width="1.1" />
<line x1="998.30" y1="675.30" x2="1012.80" y2="690.80" stroke="#111" stroke-width="1.1" />
<line x1="1017.50" y1="675.30" x2="1032.00" y2="690.80" stroke="#111" stroke-width="1.1" />
<line x1="1027.10" y1="675.30" x2="1041.60" y2="690.80" stroke="#111" stroke-width="1.1" />
<line x1="1046.30" y1="675.30" x2="1060.80" y2="690.80" stroke="#111" stroke-width="1.1" />
<line x1="1055.90" y1="675.30" x2="1070.40" y2="690.80" stroke="#111" stroke-width="1.1" />
<line x1="1075.10" y1="675.30" x2="1089.60" y2="690.80" stroke="#111" stroke-width="1.1" />
<line x1="1084.70" y1="675.30" x2="1099.20" y2="690.80" stroke="#111" stroke-width="1.1" />
<line x1="1103.90" y1="675.30" x2="1118.40" y2="690.80" stroke="#111" stroke-width="1.1" />
<line x1="1113.50" y1="675.30" x2="1128.00" y2="690.80" stroke="#111" stroke-width="1.1" />
<line x1="1132.70" y1="675.30" x2="1147.20" y2="690.80" stroke="#111" stroke-width="1.1" />
<line x1="1142.30" y1="675.30" x2="1156.80" y2="690.80" stroke="#111" stroke-width="1.1" />
<line x1="1161.50" y1="675.30" x2="1176.00" y2="690.80" stroke="#111" stroke-width="1.1" />
<line x1="1171.10" y1="675.30" x2="1185.60" y2="690.80" stroke="#111" stroke-width="1.1" />
<line x1="1190.30" y1="675.30" x2="1204.80" y2="690.80" stroke="#111" stroke-width="1.1" />
<line x1="1199.90" y1="675.30" x2="1214.40" y2="690.80" stroke="#111" stroke-width="1.1" />
<line x1="1219.10" y1="675.30" x2="1233.60" y2="690.80" stroke="#111" stroke-width="1.1" />
<line x1="1228.70" y1="675.30" x2="1243.20" y2="690.80" stroke="#111" stroke-width="1.1" />
<line x1="1247.90" y1="675.30" x2="1262.40" y2="690.80" stroke="#111" stroke-width="1.1" />
<line x1="1257.50" y1="675.30" x2="1272.00" y2="690.80" stroke="#111" stroke-width="1.1" />
<line x1="1276.70" y1="675.30" x2="1291.20" y2="690.80" stroke="#111" stroke-width="1.1" />
<line x1="1286.30" y1="675.30" x2="1300.80" y2="690.80" stroke="#111" stroke-width="1.1" />
<line x1="1305.50" y1="675.30" x2="1320.00" y2="690.80" stroke="#111" stroke-width="1.1" />
<line x1="1315.10" y1="675.30" x2="1329.60" y2="690.80" stroke="#111" stroke-width="1.1" />
<line x1="1334.30" y1="675.30" x2="1348.80" y2="690.80" stroke="#111" stroke-width="1.1" />
<line x1="1343.90" y1="675.30" x2="1358.40" y2="690.80" stroke="#111" stroke-width="1.1" />
<line x1="1363.10" y1="675.30" x2="1377.60" y2="690.80" stroke="#111" stroke-width="1.1" />
<line x1="1372.70" y1="675.30" x2="1387.20" y2="690.80" stroke="#111" stroke-width="1.1" />
<line x1="1391.90" y1="675.30" x2="1406.40" y2="690.80" stroke="#111" stroke-width="1.1" />
<line x1="1401.50" y1="675.30" x2="1416.00" y2="690.80" stroke="#111" stroke-width="1.1" />
<line x1="1420.70" y1="675.30" x2="1435.20" y2="690.80" stroke="#111" stroke-width="1.1" />
<line x1="1430.30" y1="675.30" x2="1444.80" y2="690.80" stroke="#111" stroke-width="1.1" />
<line x1="1449.50" y1="675.30" x2="1464.00" y2="690.80" stroke="#111" stroke-width="1.1" />
<line x1="1459.10" y1="675.30" x2="1473.60" y2="690.80" stroke="#111" stroke-width="1.1" />
<line x1="1478.30" y1="675.30" x2="1492.80" y2="690.80" stroke="#111" stroke-width="1.1" />
<line x1="1487.90" y1="675.30" x2="1502.40" y2="690.80" stroke="#111" stroke-width="1.1" />
<line x1="1507.10" y1="675.30" x2="1521.60" y2="690.80" stroke="#111" stroke-width="1.1" />
<line x1="1516.70" y1="675.30" x2="1531.20" y2="690.80" stroke="#111" stroke-width="1.1" />
<line x1="1535.90" y1="675.30" x2="1550.40" y2="690.80" stroke="#111" stroke-width="1.1" />
<line x1="1545.50" y1="675.30" x2="1560.00" y2="690.80" stroke="#111" stroke-width="1.1" />
<line x1="1564.70" y1="675.30" x2="1579.20" y2="690.80" stroke="#111" stroke-width="1.1" />
<line x1="1574.30" y1="675.30" x2="1588.80" y2="690.80" stroke="#111" stroke-width="1.1" />
<line x1="1593.50" y1="675.30" x2="1608.00" y2="690.80" stroke="#111" stroke-width="1.1" />
<line x1="1603.10" y1="675.30" x2="1617.60" y2="690.80" stroke="#111" stroke-width="1.1" />
<line x1="1622.30" y1="675.30" x2="1636.80" y2="690.80" stroke="#111" stroke-width="1.1" />
<line x1="1631.90" y1="675.30" x2="1646.40" y2="690.80" stroke="#111" stroke-width="1.1" />
<line x1="1651.10" y1="675.30" x2="1665.60" y2="690.80" stroke="#111" stroke-width="1.1" />
<line x1="1660.70" y1="675.30" x2="1675.20" y2="690.80" stroke="#111" stroke-width="1.1" />
</g>
<line x1="1183.50" y1="608.00" x2="1183.50" y2="737.00" stroke="#111" stroke-width="1.2" />
<line x1="1615.50" y1="594.00" x2="1615.50" y2="737.00" stroke="#111" stroke-width="1.2" />
<line x1="1183.30" y1="730.50" x2="1615.80" y2="730.50" stroke="#111" stroke-width="1.2" />
<polygon points="1183.30,730.50 1197.30,728.60 1197.30,732.40" fill="#111"/>
<polygon points="1615.80,730.50 1601.80,732.40 1601.80,728.60" fill="#111"/>
<text font-size="16.5" transform="translate(1382.70 723.30) scale(0.9262 1)" textLength="36.71" lengthAdjust="spacing" font-style="italic" >1605</text>
<path d="M1229,667.9 L1229,155.6 L1568.3,155.6 L1568.3,667.9" stroke="#000" stroke-width="2.5" fill="none" />
<line x1="1229.00" y1="616.00" x2="1304.00" y2="616.00" stroke="#000" stroke-width="2.5" />
<line x1="1493.00" y1="616.00" x2="1568.30" y2="616.00" stroke="#000" stroke-width="2.5" />
<line x1="1227.80" y1="667.60" x2="1569.50" y2="667.60" stroke="#000" stroke-width="3.2" />
<line x1="1229.00" y1="667.00" x2="1229.00" y2="674.80" stroke="#000" stroke-width="2.5" />
<line x1="1568.30" y1="667.00" x2="1568.30" y2="674.80" stroke="#000" stroke-width="2.5" />
<line x1="1304.20" y1="668.00" x2="1304.20" y2="674.80" stroke="#000" stroke-width="2.2" />
<line x1="1318.70" y1="668.00" x2="1318.70" y2="674.80" stroke="#000" stroke-width="2.2" />
<line x1="1357.00" y1="668.00" x2="1357.00" y2="674.80" stroke="#000" stroke-width="2.2" />
<line x1="1438.50" y1="668.00" x2="1438.50" y2="674.80" stroke="#000" stroke-width="2.2" />
<line x1="1478.00" y1="668.00" x2="1478.00" y2="674.80" stroke="#000" stroke-width="2.2" />
<line x1="1492.40" y1="668.00" x2="1492.40" y2="674.80" stroke="#000" stroke-width="2.2" />
<rect x="1266.10" y="150.30" width="6.40" height="5.30" rx="0" stroke="none" stroke-width="0" fill="#c8c8c8" />
<line x1="1266.10" y1="150.30" x2="1266.10" y2="155.60" stroke="#000" stroke-width="1.9" />
<line x1="1272.50" y1="150.30" x2="1272.50" y2="155.60" stroke="#000" stroke-width="1.9" />
<rect x="1262.90" y="123.30" width="12.60" height="4.80" rx="0" stroke="none" stroke-width="0" fill="#000" />
<rect x="1267.20" y="125.00" width="4.60" height="1.40" rx="0" stroke="none" stroke-width="0" fill="#fff" />
<path d="M1263.9,128.1 L1263.9,145.8 L1273.4,145.8 C1277.0,143.3 1277.0,134.8 1273.4,132.8 L1273.8,128.1 Z" stroke="#000" stroke-width="1.9" fill="#fff" />
<path d="M1271.5,132.8 C1274.0,135.3 1274.0,142.3 1271.5,145.3" stroke="#000" stroke-width="1.6" fill="none" />
<line x1="1265.20" y1="136.50" x2="1270.20" y2="136.50" stroke="#777" stroke-width="0.8" />
<rect x="1263.10" y="144.90" width="12.20" height="5.60" rx="0.8" stroke="none" stroke-width="0" fill="#000" />
<rect x="1266.80" y="146.90" width="5.20" height="1.40" rx="0" stroke="none" stroke-width="0" fill="#fff" />
<polygon points="1264.2,129.5 1264.2,144.1 1261.2,142.9 1257.7,140.9 1257.7,139.5 1251.7,139.5 1251.7,133.5 1257.7,133.5 1257.7,132.3 1261.2,130.5" fill="#000"/>
<rect x="1244.40" y="135.40" width="8.80" height="2.60" rx="1.2" stroke="none" stroke-width="0" fill="#000" />
<line x1="1247.70" y1="128.90" x2="1247.70" y2="144.90" stroke="#000" stroke-width="2.7" stroke-linecap="round"/>
<rect x="1303.50" y="150.30" width="6.40" height="5.30" rx="0" stroke="none" stroke-width="0" fill="#c8c8c8" />
<line x1="1303.50" y1="150.30" x2="1303.50" y2="155.60" stroke="#000" stroke-width="1.9" />
<line x1="1309.90" y1="150.30" x2="1309.90" y2="155.60" stroke="#000" stroke-width="1.9" />
<rect x="1300.30" y="123.30" width="12.60" height="4.80" rx="0" stroke="none" stroke-width="0" fill="#000" />
<rect x="1304.60" y="125.00" width="4.60" height="1.40" rx="0" stroke="none" stroke-width="0" fill="#fff" />
<path d="M1301.3,128.1 L1301.3,145.8 L1310.8,145.8 C1314.3999999999999,143.3 1314.3999999999999,134.8 1310.8,132.8 L1311.1999999999998,128.1 Z" stroke="#000" stroke-width="1.9" fill="#fff" />
<path d="M1308.8999999999999,132.8 C1311.3999999999999,135.3 1311.3999999999999,142.3 1308.8999999999999,145.3" stroke="#000" stroke-width="1.6" fill="none" />
<line x1="1302.60" y1="136.50" x2="1307.60" y2="136.50" stroke="#777" stroke-width="0.8" />
<rect x="1300.50" y="144.90" width="12.20" height="5.60" rx="0.8" stroke="none" stroke-width="0" fill="#000" />
<rect x="1304.20" y="146.90" width="5.20" height="1.40" rx="0" stroke="none" stroke-width="0" fill="#fff" />
<polygon points="1301.6,129.5 1301.6,144.1 1298.6,142.9 1295.1,140.9 1295.1,139.5 1289.1,139.5 1289.1,133.5 1295.1,133.5 1295.1,132.3 1298.6,130.5" fill="#000"/>
<rect x="1281.80" y="135.40" width="8.80" height="2.60" rx="1.2" stroke="none" stroke-width="0" fill="#000" />
<line x1="1285.10" y1="128.90" x2="1285.10" y2="144.90" stroke="#000" stroke-width="2.7" stroke-linecap="round"/>
<rect x="1524.90" y="150.30" width="6.40" height="5.30" rx="0" stroke="none" stroke-width="0" fill="#c8c8c8" />
<line x1="1524.90" y1="150.30" x2="1524.90" y2="155.60" stroke="#000" stroke-width="1.9" />
<line x1="1531.30" y1="150.30" x2="1531.30" y2="155.60" stroke="#000" stroke-width="1.9" />
<rect x="1521.70" y="123.30" width="12.60" height="4.80" rx="0" stroke="none" stroke-width="0" fill="#000" />
<rect x="1526.00" y="125.00" width="4.60" height="1.40" rx="0" stroke="none" stroke-width="0" fill="#fff" />
<path d="M1522.7,128.1 L1522.7,145.8 L1532.2,145.8 C1535.8,143.3 1535.8,134.8 1532.2,132.8 L1532.6,128.1 Z" stroke="#000" stroke-width="1.9" fill="#fff" />
<path d="M1530.3,132.8 C1532.8,135.3 1532.8,142.3 1530.3,145.3" stroke="#000" stroke-width="1.6" fill="none" />
<line x1="1524.00" y1="136.50" x2="1529.00" y2="136.50" stroke="#777" stroke-width="0.8" />
<rect x="1521.90" y="144.90" width="12.20" height="5.60" rx="0.8" stroke="none" stroke-width="0" fill="#000" />
<rect x="1525.60" y="146.90" width="5.20" height="1.40" rx="0" stroke="none" stroke-width="0" fill="#fff" />
<polygon points="1523,129.5 1523,144.1 1520,142.9 1516.5,140.9 1516.5,139.5 1510.5,139.5 1510.5,133.5 1516.5,133.5 1516.5,132.3 1520,130.5" fill="#000"/>
<rect x="1503.20" y="135.40" width="8.80" height="2.60" rx="1.2" stroke="none" stroke-width="0" fill="#000" />
<line x1="1506.50" y1="128.90" x2="1506.50" y2="144.90" stroke="#000" stroke-width="2.7" stroke-linecap="round"/>
<rect x="1472.80" y="221.20" width="68.20" height="55.40" rx="0" stroke="#000" stroke-width="2" fill="none" />
<circle cx="1476.30" cy="224.80" r="2.30" stroke="none" stroke-width="0" fill="#000" />
<circle cx="1537.50" cy="224.80" r="2.30" stroke="none" stroke-width="0" fill="#000" />
<circle cx="1476.30" cy="273.00" r="2.30" stroke="none" stroke-width="0" fill="#000" />
<circle cx="1537.50" cy="273.00" r="2.30" stroke="none" stroke-width="0" fill="#000" />
<rect x="1487.80" y="267.80" width="20.40" height="6.20" rx="0" stroke="#000" stroke-width="1.5" fill="none" />
<rect x="1318.50" y="455.00" width="160.00" height="140.80" rx="5" stroke="#000" stroke-width="2.1" fill="none" />
<path d="M1336.5,478.2 L1459.3,478.2 L1459.3,493.8 L1473.5,493.8 L1473.5,501 L1459.3,501 L1459.3,549.8 L1473.5,549.8 L1473.5,557.6 L1459.3,557.6 L1459.3,573.1 L1336.5,573.1 Q1332,573.1 1332,568.6 L1332,482.7 Q1332,478.2 1336.5,478.2 Z" stroke="#000" stroke-width="2.1" fill="none" />
<rect x="1464.30" y="489.80" width="6.00" height="15.20" rx="2.5" stroke="#000" stroke-width="1.3" fill="#fff" />
<circle cx="1467.30" cy="491.00" r="1.80" stroke="none" stroke-width="0" fill="#000" />
<circle cx="1467.30" cy="503.80" r="1.80" stroke="none" stroke-width="0" fill="#000" />
<line x1="1463.00" y1="493.80" x2="1473.50" y2="493.80" stroke="#000" stroke-width="1.8" />
<line x1="1463.00" y1="501.00" x2="1473.50" y2="501.00" stroke="#000" stroke-width="1.8" />
<rect x="1464.30" y="546.10" width="6.00" height="15.20" rx="2.5" stroke="#000" stroke-width="1.3" fill="#fff" />
<circle cx="1467.30" cy="547.30" r="1.80" stroke="none" stroke-width="0" fill="#000" />
<circle cx="1467.30" cy="560.10" r="1.80" stroke="none" stroke-width="0" fill="#000" />
<line x1="1463.00" y1="550.10" x2="1473.50" y2="550.10" stroke="#000" stroke-width="1.8" />
<line x1="1463.00" y1="557.30" x2="1473.50" y2="557.30" stroke="#000" stroke-width="1.8" />
<circle cx="1369.00" cy="466.60" r="7.60" stroke="#000" stroke-width="1.7" fill="none" />
<circle cx="1369.00" cy="466.60" r="5.30" stroke="#333" stroke-width="0.8" fill="none" />
<circle cx="1369.00" cy="466.60" r="3.40" stroke="none" stroke-width="0" fill="#000" />
<circle cx="1423.00" cy="466.60" r="7.60" stroke="#000" stroke-width="1.7" fill="none" />
<circle cx="1423.00" cy="466.60" r="5.30" stroke="#333" stroke-width="0.8" fill="none" />
<circle cx="1423.00" cy="466.60" r="3.40" stroke="none" stroke-width="0" fill="#000" />
<circle cx="1342.50" cy="584.00" r="7.60" stroke="#000" stroke-width="1.7" fill="none" />
<circle cx="1342.50" cy="584.00" r="5.30" stroke="#333" stroke-width="0.8" fill="none" />
<circle cx="1342.50" cy="584.00" r="3.40" stroke="none" stroke-width="0" fill="#000" />
<circle cx="1448.70" cy="584.00" r="7.60" stroke="#000" stroke-width="1.7" fill="none" />
<circle cx="1448.70" cy="584.00" r="5.30" stroke="#333" stroke-width="0.8" fill="none" />
<circle cx="1448.70" cy="584.00" r="3.40" stroke="none" stroke-width="0" fill="#000" />
<path d="M1391.5,513.5 A7.4,7.4 0 0 1 1406,513.5 L1409.6,528.5 Q1410,532.3 1406.8,532.3 L1390.6,532.3 Q1387.4,532.3 1387.9,528.5 Z" stroke="#000" stroke-width="1.9" fill="#fff" />
<circle cx="1398.70" cy="515.60" r="2.00" stroke="none" stroke-width="0" fill="#000" />
<line x1="1398.50" y1="515.60" x2="1398.50" y2="522.00" stroke="#111" stroke-width="1.2" />
<path d="M1329,529.5 L1367.8,529.5 A5.2,5.2 0 0 1 1367.8,539.9 L1329,539.9 Z" stroke="#000" stroke-width="1.9" fill="#fff" />
<circle cx="1366.20" cy="534.70" r="2.10" stroke="none" stroke-width="0" fill="#000" />
<rect x="1322.60" y="526.60" width="7.00" height="16.00" rx="2.4" stroke="none" stroke-width="0" fill="#000" />
<line x1="1323.50" y1="529.50" x2="1326.50" y2="529.50" stroke="#999" stroke-width="0.7" />
<line x1="1323.50" y1="532.50" x2="1326.50" y2="532.50" stroke="#999" stroke-width="0.7" />
<line x1="1323.50" y1="536.50" x2="1326.50" y2="536.50" stroke="#999" stroke-width="0.7" />
<line x1="1323.50" y1="539.50" x2="1326.50" y2="539.50" stroke="#999" stroke-width="0.7" />
<path d="M1304.2,674.5 L1304.2,617 Q1304.2,610.4 1311,610.4 L1486,610.4 Q1493,610.4 1493,617 L1493,674.5" stroke="#000" stroke-width="2.5" fill="none" />
<rect x="1342.60" y="617.00" width="108.20" height="50.80" rx="0" stroke="#000" stroke-width="2.8" fill="none" />
<circle cx="1348.00" cy="633.20" r="2.40" stroke="none" stroke-width="0" fill="#000" />
<circle cx="1348.00" cy="652.60" r="2.40" stroke="none" stroke-width="0" fill="#000" />
<rect x="1317.10" y="613.20" width="3.20" height="6.00" rx="1.6" stroke="none" stroke-width="0" fill="#000" />
<rect x="1317.10" y="636.20" width="3.20" height="6.00" rx="1.6" stroke="none" stroke-width="0" fill="#000" />
<rect x="1477.00" y="613.20" width="3.20" height="6.00" rx="1.6" stroke="none" stroke-width="0" fill="#000" />
<rect x="1477.00" y="636.20" width="3.20" height="6.00" rx="1.6" stroke="none" stroke-width="0" fill="#000" />
<rect x="1327.00" y="663.50" width="6.00" height="3.50" rx="1.5" stroke="none" stroke-width="0" fill="#000" />
<rect x="1464.00" y="663.50" width="6.00" height="3.50" rx="1.5" stroke="none" stroke-width="0" fill="#000" />
<line x1="1445.90" y1="630.50" x2="1445.90" y2="667.00" stroke="#000" stroke-width="3" stroke-linecap="round"/>
<path d="M1447,643 L1451.4,643 L1451.4,667" stroke="#000" stroke-width="1.8" fill="none" />
<line x1="1556.70" y1="595.50" x2="1596.70" y2="595.50" stroke="#111" stroke-width="0.8" />
<line x1="1568.30" y1="580.40" x2="1585.40" y2="580.40" stroke="#000" stroke-width="1.8" />
<line x1="1568.30" y1="597.50" x2="1585.40" y2="597.50" stroke="#000" stroke-width="2" />
<line x1="1568.30" y1="601.00" x2="1585.40" y2="601.00" stroke="#000" stroke-width="1.5" />
<line x1="1568.30" y1="604.60" x2="1585.40" y2="604.60" stroke="#000" stroke-width="1.6" />
<line x1="1568.30" y1="609.00" x2="1585.40" y2="609.00" stroke="#000" stroke-width="2.2" />
<rect x="1585.60" y="568.60" width="5.00" height="53.70" rx="0" stroke="#000" stroke-width="1.7" fill="#fff" />
<rect x="1583.60" y="598.00" width="8.80" height="12.00" rx="0" stroke="none" stroke-width="0" fill="#000" />
<line x1="1587.50" y1="599.00" x2="1587.50" y2="609.00" stroke="#ccc" stroke-width="0.9" stroke-dasharray="2 1.5"/>
<circle cx="1599.20" cy="572.10" r="2.00" stroke="none" stroke-width="0" fill="#000" />
<line x1="1589.20" y1="574.60" x2="1609.20" y2="574.60" stroke="#000" stroke-width="3" stroke-linecap="round"/>
<rect x="1597.50" y="574.60" width="3.40" height="5.00" rx="0" stroke="none" stroke-width="0" fill="#000" />
<rect x="1594.80" y="578.20" width="8.80" height="7.00" rx="1.5" stroke="none" stroke-width="0" fill="#000" />
<circle cx="1599.20" cy="581.60" r="1.00" stroke="none" stroke-width="0" fill="#ddd" />
<path d="M1596.2,584.6 L1602.2,584.6 Q1605.7,585.8000000000001 1608.0,590.0 L1608.0,592.4 L1590.4,592.4 L1590.4,590.0 Q1592.7,585.8000000000001 1596.2,584.6 Z" stroke="none" stroke-width="0" fill="#000" />
<path d="M1591.5,592.2 L1606,592.2 L1609.6,596 L1609.6,607.4 L1591.5,607.4 Z" stroke="none" stroke-width="0" fill="#000" />
<rect x="1592.80" y="594.20" width="14.60" height="10.00" rx="0" stroke="none" stroke-width="0" fill="#fff" />
<line x1="1591.00" y1="604.90" x2="1610.00" y2="604.90" stroke="#000" stroke-width="1.6" />
<rect x="1609.40" y="593.80" width="6.50" height="14.60" rx="1" stroke="none" stroke-width="0" fill="#000" />
<rect x="1611.60" y="596.00" width="2.00" height="10.20" rx="0.8" stroke="none" stroke-width="0" fill="#fff" />
<line x1="1599.50" y1="592.00" x2="1599.50" y2="609.00" stroke="#888" stroke-width="0.8" />
<line x1="1591.70" y1="601.50" x2="1632.50" y2="601.50" stroke="#111" stroke-width="0.8" />
<line x1="1575.00" y1="457.50" x2="1711.70" y2="457.50" stroke="#111" stroke-width="1.2" />
<line x1="1575.00" y1="457.30" x2="1581.20" y2="593.00" stroke="#111" stroke-width="1.2" />
<circle cx="1581.20" cy="593.00" r="1.70" stroke="none" stroke-width="0" fill="#000" />
<text font-size="33" word-spacing="7.26" transform="translate(1578.00 448.00) scale(0.8000 1)" textLength="191.25" lengthAdjust="spacing" font-style="italic" >Вход воды</text>
<text font-size="32.5" transform="translate(1604.00 486.00) scale(0.8000 1)" textLength="85.88" lengthAdjust="spacing" font-style="italic" >Dy80</text>
<line x1="1102.50" y1="529.00" x2="1102.50" y2="672.50" stroke="#555" stroke-width="0.9" />
<line x1="1064.40" y1="647.00" x2="1064.40" y2="674.50" stroke="#000" stroke-width="1.9" />
<line x1="1071.40" y1="651.00" x2="1071.40" y2="674.50" stroke="#000" stroke-width="1.9" />
<line x1="1135.70" y1="660.00" x2="1135.70" y2="674.50" stroke="#000" stroke-width="1.9" />
<line x1="1142.00" y1="660.00" x2="1142.00" y2="674.50" stroke="#000" stroke-width="1.9" />
<line x1="1071.40" y1="665.80" x2="1135.70" y2="665.80" stroke="#000" stroke-width="1.9" />
<path d="M1160.4,613.5 L1160.4,590 C1158,556 1134,534 1102,533.8 C1064,534 1036,560 1035.9,594 C1036,632 1062,659.5 1100,659.6 L1158.8,659.6 Z" stroke="#000" stroke-width="2.3" fill="#fff" />
<line x1="1102.50" y1="529.00" x2="1102.50" y2="672.50" stroke="#555" stroke-width="0.9" />
<circle cx="1102.30" cy="592.30" r="33.30" stroke="#000" stroke-width="2.6" fill="none" />
<circle cx="1102.30" cy="592.30" r="39.70" stroke="#000" stroke-width="2.1" fill="none" />
<circle cx="1102.30" cy="592.30" r="46.80" stroke="#000" stroke-width="2.1" fill="none" />
<rect x="1158.80" y="613.00" width="5.80" height="60.00" rx="0" stroke="none" stroke-width="0" fill="#000" />
<line x1="1156.00" y1="620.50" x2="1167.50" y2="620.50" stroke="#444" stroke-width="0.7" />
<line x1="1156.00" y1="633.50" x2="1167.50" y2="633.50" stroke="#444" stroke-width="0.7" />
<line x1="1156.00" y1="646.50" x2="1167.50" y2="646.50" stroke="#444" stroke-width="0.7" />
<line x1="1156.00" y1="659.50" x2="1167.50" y2="659.50" stroke="#444" stroke-width="0.7" />
<line x1="1164.60" y1="624.10" x2="1228.00" y2="624.10" stroke="#000" stroke-width="2" />
<line x1="1142.00" y1="660.80" x2="1228.00" y2="660.80" stroke="#000" stroke-width="2.1" />
<line x1="1213.00" y1="580.30" x2="1229.00" y2="580.30" stroke="#000" stroke-width="1.8" />
<line x1="1213.00" y1="597.30" x2="1229.00" y2="597.30" stroke="#000" stroke-width="2" />
<line x1="1213.00" y1="601.30" x2="1229.00" y2="601.30" stroke="#000" stroke-width="1.5" />
<line x1="1213.00" y1="606.00" x2="1229.00" y2="606.00" stroke="#000" stroke-width="1.6" />
<line x1="1213.00" y1="609.50" x2="1229.00" y2="609.50" stroke="#000" stroke-width="2.2" />
<line x1="1213.00" y1="595.50" x2="1237.00" y2="595.50" stroke="#111" stroke-width="0.8" />
<rect x="1206.80" y="568.40" width="4.80" height="27.60" rx="0" stroke="#000" stroke-width="1.7" fill="#fff" />
<rect x="1204.30" y="595.00" width="9.30" height="26.00" rx="0" stroke="none" stroke-width="0" fill="#000" />
<rect x="1208.30" y="621.00" width="5.30" height="26.40" rx="0" stroke="none" stroke-width="0" fill="#000" />
<line x1="1209.50" y1="598.00" x2="1209.50" y2="618.00" stroke="#ccc" stroke-width="0.9" stroke-dasharray="2 1.5"/>
<line x1="1210.50" y1="624.00" x2="1210.50" y2="640.00" stroke="#ddd" stroke-width="0.8" stroke-dasharray="3 2"/>
<circle cx="1197.20" cy="572.20" r="2.00" stroke="none" stroke-width="0" fill="#000" />
<line x1="1187.20" y1="574.70" x2="1207.20" y2="574.70" stroke="#000" stroke-width="3" stroke-linecap="round"/>
<rect x="1195.50" y="574.70" width="3.40" height="5.00" rx="0" stroke="none" stroke-width="0" fill="#000" />
<rect x="1192.80" y="578.30" width="8.80" height="7.00" rx="1.5" stroke="none" stroke-width="0" fill="#000" />
<circle cx="1197.20" cy="581.70" r="1.00" stroke="none" stroke-width="0" fill="#ddd" />
<path d="M1194.2,584.7 L1200.2,584.7 Q1203.7,585.9000000000001 1206.0,590.1 L1206.0,592.5 L1188.4,592.5 L1188.4,590.1 Q1190.7,585.9000000000001 1194.2,584.7 Z" stroke="none" stroke-width="0" fill="#000" />
<path d="M1205.5,592.2 L1191,592.2 L1187.5,596 L1187.5,607.4 L1205.5,607.4 Z" stroke="none" stroke-width="0" fill="#000" />
<rect x="1189.60" y="594.20" width="14.40" height="10.00" rx="0" stroke="none" stroke-width="0" fill="#fff" />
<line x1="1187.00" y1="604.90" x2="1206.00" y2="604.90" stroke="#000" stroke-width="1.6" />
<rect x="1181.40" y="594.20" width="6.20" height="13.80" rx="1" stroke="none" stroke-width="0" fill="#000" />
<rect x="1183.60" y="596.40" width="2.00" height="9.40" rx="0.8" stroke="none" stroke-width="0" fill="#fff" />
<line x1="1197.50" y1="592.00" x2="1197.50" y2="609.00" stroke="#888" stroke-width="0.8" />
<path d="M1165.5,622 C1176,607 1190,598 1204,595.5" stroke="#111" stroke-width="0.9" fill="none" stroke-dasharray="9 5"/>
<path d="M1177,646 A29.5,33 0 0 1 1206.5,611.6 L1206.5,646 Z" stroke="none" stroke-width="0" fill="#fff" />
<path d="M1177.3,646 A29.2,32.6 0 0 1 1206,612.3" stroke="#000" stroke-width="6" fill="none" />
<path d="M1177.3,646 A29.2,32.6 0 0 1 1206,612.3" stroke="#bbb" stroke-width="1.5" fill="none" />
<rect x="1165.20" y="640.20" width="44.80" height="6.40" rx="3.2" stroke="#000" stroke-width="1.5" fill="#fff" />
<circle cx="1168.40" cy="643.40" r="2.20" stroke="#000" stroke-width="1.2" fill="#fff" />
<circle cx="1194.40" cy="643.40" r="2.20" stroke="#000" stroke-width="1.2" fill="#fff" />
<rect x="1174.20" y="638.00" width="6.20" height="9.40" rx="0" stroke="none" stroke-width="0" fill="#000" />
<circle cx="1208.40" cy="643.40" r="4.20" stroke="none" stroke-width="0" fill="#000" />
<rect x="1199.00" y="645.50" width="14.00" height="3.10" rx="0" stroke="none" stroke-width="0" fill="#000" />
<line x1="1183.50" y1="608.00" x2="1183.50" y2="737.00" stroke="#111" stroke-width="1.2" />
<line x1="992.50" y1="427.50" x2="1175.00" y2="427.50" stroke="#111" stroke-width="1.2" />
<line x1="1175.00" y1="427.20" x2="1222.30" y2="588.20" stroke="#111" stroke-width="1.2" />
<circle cx="1222.30" cy="588.20" r="1.70" stroke="none" stroke-width="0" fill="#000" />
<text font-size="32.8" word-spacing="7.22" transform="translate(995.80 417.00) scale(0.8000 1)" textLength="215.62" lengthAdjust="spacing" font-style="italic" >Выход воды</text>
<text font-size="32.5" transform="translate(1046.70 456.70) scale(0.8000 1)" textLength="86.62" lengthAdjust="spacing" font-style="italic" >Dy80</text>
<line x1="52.50" y1="0.00" x2="52.50" y2="1200.00" stroke="#333" stroke-width="1.3" />
<line x1="1748.50" y1="0.00" x2="1748.50" y2="1200.00" stroke="#333" stroke-width="1.3" />
<line x1="52.10" y1="0.40" x2="1748.50" y2="0.40" stroke="#222" stroke-width="1.4" />
<line x1="52.10" y1="1199.50" x2="1748.50" y2="1199.50" stroke="#333" stroke-width="1.3" />
<rect x="128.20" y="15.90" width="1605.30" height="1168.90" rx="0" stroke="#000" stroke-width="3.4" fill="none" />
<line x1="90.00" y1="14.20" x2="90.00" y2="476.30" stroke="#000" stroke-width="3.4" />
<line x1="109.00" y1="15.90" x2="109.00" y2="476.30" stroke="#000" stroke-width="3.4" />
<line x1="88.30" y1="15.90" x2="128.20" y2="15.90" stroke="#000" stroke-width="3.4" />
<line x1="88.30" y1="246.30" x2="128.20" y2="246.30" stroke="#000" stroke-width="3.4" />
<line x1="88.30" y1="476.30" x2="128.20" y2="476.30" stroke="#000" stroke-width="3.4" />
<line x1="90.00" y1="626.70" x2="90.00" y2="1186.50" stroke="#000" stroke-width="3.4" />
<line x1="109.00" y1="628.40" x2="109.00" y2="1184.80" stroke="#000" stroke-width="3.4" />
<line x1="88.30" y1="628.40" x2="128.20" y2="628.40" stroke="#000" stroke-width="3.4" />
<line x1="88.30" y1="762.20" x2="128.20" y2="762.20" stroke="#000" stroke-width="3.4" />
<line x1="88.30" y1="858.60" x2="128.20" y2="858.60" stroke="#000" stroke-width="3.4" />
<line x1="88.30" y1="954.40" x2="128.20" y2="954.40" stroke="#000" stroke-width="3.4" />
<line x1="88.30" y1="1088.40" x2="128.20" y2="1088.40" stroke="#000" stroke-width="3.4" />
<line x1="88.30" y1="1184.80" x2="128.20" y2="1184.80" stroke="#000" stroke-width="3.4" />
<line x1="128.20" y1="69.60" x2="397.30" y2="69.60" stroke="#000" stroke-width="3.4" />
<line x1="397.30" y1="15.90" x2="397.30" y2="71.30" stroke="#000" stroke-width="3.4" />
<text font-size="24.5" transform="translate(393.50 33.60) rotate(180) scale(0.8800 1)" textLength="297.73" lengthAdjust="spacing" font-style="italic" >КВТУ.060.101.00.000  ВО</text>
<text font-size="15.5" word-spacing="3.41" transform="translate(104.80 177.00) rotate(-90) scale(0.8800 1)" textLength="110.23" lengthAdjust="spacing" font-style="italic" >Перв. примен.</text>
<text font-size="15.5" word-spacing="3.41" transform="translate(104.80 392.00) rotate(-90) scale(0.8800 1)" textLength="110.23" lengthAdjust="spacing" font-style="italic" >Перв. примен.</text>
<text font-size="15.5" word-spacing="3.41" transform="translate(104.80 735.00) rotate(-90) scale(0.8800 1)" textLength="107.39" lengthAdjust="spacing" font-style="italic" >Подп. и дата</text>
<text font-size="15.5" word-spacing="2.86" transform="translate(104.80 853.00) rotate(-90) scale(0.8800 1)" textLength="95.45" lengthAdjust="spacing" font-style="italic" >Инв. N дубл.</text>
<text font-size="15.5" word-spacing="3.41" transform="translate(104.80 947.00) rotate(-90) scale(0.8800 1)" textLength="99.43" lengthAdjust="spacing" font-style="italic" >Взам. инв. N</text>
<text font-size="15.5" word-spacing="3.41" transform="translate(104.80 1061.50) rotate(-90) scale(0.8800 1)" textLength="107.95" lengthAdjust="spacing" font-style="italic" >Подп. и дата</text>
<text font-size="15.5" word-spacing="3.00" transform="translate(104.80 1177.00) rotate(-90) scale(0.8800 1)" textLength="96.59" lengthAdjust="spacing" font-style="italic" >Инв. N подл.</text>
<line x1="128.20" y1="878.00" x2="788.60" y2="878.00" stroke="#000" stroke-width="1.9" />
<line x1="128.20" y1="915.80" x2="788.60" y2="915.80" stroke="#000" stroke-width="1.9" />
<line x1="128.20" y1="945.60" x2="788.60" y2="945.60" stroke="#000" stroke-width="1.9" />
<line x1="128.20" y1="974.90" x2="788.60" y2="974.90" stroke="#000" stroke-width="1.9" />
<line x1="128.20" y1="1004.80" x2="788.60" y2="1004.80" stroke="#000" stroke-width="1.9" />
<line x1="128.20" y1="1036.00" x2="788.60" y2="1036.00" stroke="#000" stroke-width="1.9" />
<line x1="128.20" y1="1066.00" x2="788.60" y2="1066.00" stroke="#000" stroke-width="1.9" />
<line x1="128.20" y1="1095.80" x2="788.60" y2="1095.80" stroke="#000" stroke-width="1.9" />
<line x1="128.20" y1="1125.50" x2="788.60" y2="1125.50" stroke="#000" stroke-width="1.9" />
<line x1="128.20" y1="1154.90" x2="788.60" y2="1154.90" stroke="#000" stroke-width="1.9" />
<line x1="492.80" y1="877.05" x2="492.80" y2="1184.80" stroke="#000" stroke-width="1.9" />
<line x1="624.00" y1="877.05" x2="624.00" y2="1184.80" stroke="#000" stroke-width="1.9" />
<line x1="788.60" y1="877.05" x2="788.60" y2="1184.80" stroke="#000" stroke-width="1.9" />
<text font-size="16" word-spacing="3.52" transform="translate(320.00 868.30) scale(0.8800 1)" textLength="255.11" lengthAdjust="spacing" font-style="italic" >Техническая характеристика</text>
<text font-size="16" word-spacing="3.52" transform="translate(133.30 902.80) scale(0.8800 1)" textLength="229.77" lengthAdjust="spacing" font-style="italic" >Наименование показателя</text>
<text font-size="16" transform="translate(526.70 892.70) scale(0.8800 1)" textLength="69.66" lengthAdjust="spacing" font-style="italic" >Еденицы</text>
<text font-size="16" transform="translate(521.30 910.80) scale(0.8800 1)" textLength="85.80" lengthAdjust="spacing" font-style="italic" >измерения</text>
<text font-size="16" transform="translate(681.30 902.00) scale(0.8800 1)" textLength="77.27" lengthAdjust="spacing" font-style="italic" >Значение</text>
<text font-size="16" word-spacing="3.52" transform="translate(133.50 935.50) scale(0.8800 1)" textLength="202.50" lengthAdjust="spacing" font-style="italic" >Номинальная мощность</text>
<text font-size="16" transform="translate(544.80 935.50) scale(0.8224 1)" textLength="37.33" lengthAdjust="spacing" font-style="italic" >МВт</text>
<text font-size="18" transform="translate(690.70 935.50) scale(0.9500 1)" textLength="35.05" lengthAdjust="spacing" font-style="italic" >0,75</text>
<text font-size="16" word-spacing="3.52" transform="translate(129.50 966.50) scale(0.8800 1)" textLength="303.64" lengthAdjust="spacing" font-style="italic" >Диапазон рабочего регулирования</text>
<text font-size="16" transform="translate(547.50 966.50) scale(0.8224 1)" textLength="14.23" lengthAdjust="spacing" font-style="italic" >%</text>
<text font-size="16.5" transform="translate(682.70 966.50) scale(0.9342 1)" textLength="51.38" lengthAdjust="spacing" font-style="italic" >50-100</text>
<text font-size="16" word-spacing="3.52" transform="translate(132.70 995.80) scale(0.8800 1)" textLength="107.50" lengthAdjust="spacing" font-style="italic" >Расход воды</text>
<text font-size="16" transform="translate(540.00 995.80) scale(0.8800 1)" textLength="40.00" lengthAdjust="spacing" font-style="italic" >м3/ч</text>
<text font-size="18" transform="translate(697.30 995.80) scale(0.9340 1)" textLength="20.02" lengthAdjust="spacing" font-style="italic" >26</text>
<text font-size="16" word-spacing="3.52" transform="translate(130.00 1027.20) scale(0.8800 1)" textLength="205.34" lengthAdjust="spacing" font-style="italic" >Рабочее давление воды</text>
<text font-size="16" word-spacing="3.52" transform="translate(504.50 1027.20) scale(0.8800 1)" textLength="119.77" lengthAdjust="spacing" font-style="italic" >МПа (кгс/см2)</text>
<text font-size="16" word-spacing="2.10" transform="translate(677.90 1027.20) scale(0.9500 1)" textLength="61.68" lengthAdjust="spacing" font-style="italic" >0,6 (6,0)</text>
<text font-size="16" word-spacing="3.52" transform="translate(130.00 1057.40) scale(0.8800 1)" textLength="330.34" lengthAdjust="spacing" font-style="italic" >Гидравлическое сопративление котла</text>
<text font-size="16" word-spacing="3.52" transform="translate(502.10 1057.40) scale(0.8800 1)" textLength="119.77" lengthAdjust="spacing" font-style="italic" >МПа (кгс/см2)</text>
<text font-size="16" word-spacing="1.72" transform="translate(673.30 1057.40) scale(0.9500 1)" textLength="70.21" lengthAdjust="spacing" font-style="italic" >0,06 (0,6)</text>
<text font-size="16" word-spacing="3.52" transform="translate(129.50 1086.80) scale(0.8800 1)" textLength="258.18" lengthAdjust="spacing" font-style="italic" >Температура уходящих газов</text>
<text font-size="16" transform="translate(548.00 1086.80) scale(0.8188 1)" textLength="17.95" lengthAdjust="spacing" font-style="italic" >°С</text>
<text font-size="16" word-spacing="3.52" transform="translate(661.30 1086.80) scale(0.8800 1)" textLength="111.59" lengthAdjust="spacing" font-style="italic" >не более 250</text>
<text font-size="16" word-spacing="3.52" transform="translate(130.00 1116.60) scale(0.8800 1)" textLength="373.07" lengthAdjust="spacing" font-style="italic" >Максимальная рабочая температура воды</text>
<text font-size="16" transform="translate(548.00 1116.60) scale(0.8188 1)" textLength="17.95" lengthAdjust="spacing" font-style="italic" >°С</text>
<text font-size="16" transform="translate(698.10 1116.60) scale(0.7017 1)" textLength="25.51" lengthAdjust="spacing" font-style="italic" >115</text>
<text font-size="16" word-spacing="3.52" transform="translate(130.00 1146.00) scale(0.8800 1)" textLength="279.55" lengthAdjust="spacing" font-style="italic" >Температура воды (вход/выход)</text>
<text font-size="16" transform="translate(548.00 1146.00) scale(0.8188 1)" textLength="17.95" lengthAdjust="spacing" font-style="italic" >°С</text>
<text font-size="16" transform="translate(687.50 1146.00) scale(0.9500 1)" textLength="42.11" lengthAdjust="spacing" font-style="italic" >70/95</text>
<text font-size="16" word-spacing="3.52" transform="translate(132.70 1174.80) scale(0.8800 1)" textLength="399.20" lengthAdjust="spacing" font-style="italic" >Габариты котла (длинна х ширина х высота)</text>
<text font-size="16" transform="translate(544.00 1174.80) scale(0.8251 1)" textLength="21.94" lengthAdjust="spacing" font-style="italic" >мм</text>
<text font-size="16" transform="translate(651.20 1174.80) scale(0.8800 1)" textLength="125.80" lengthAdjust="spacing" font-style="italic" >2385х1605х2117</text>
<text font-size="18.6" transform="translate(1001.00 849.40) scale(0.4835 1)" textLength="15.51" lengthAdjust="spacing" font-style="italic" >1.</text>
<text font-size="18.6" transform="translate(1028.80 849.40) scale(0.6658 1)" textLength="546.55" lengthAdjust="spacing" font-style="italic" >Все размеры для справок , допустимое отклонение  ±100 мм.</text>
<text font-size="18.6" transform="translate(1001.00 873.10) scale(0.4835 1)" textLength="15.51" lengthAdjust="spacing" font-style="italic" >2.</text>
<text font-size="18.6" transform="translate(1028.80 873.10) scale(0.6703 1)" textLength="822.31" lengthAdjust="spacing" font-style="italic" >На боковой стенке котла в области топочной камеры установлен пробоотборный штуцер</text>
<text font-size="18.6" transform="translate(1001.00 896.70) scale(0.4835 1)" textLength="15.51" lengthAdjust="spacing" font-style="italic" >3.</text>
<text font-size="18.6" transform="translate(1028.80 896.70) scale(0.6735 1)" textLength="934.71" lengthAdjust="spacing" font-style="italic" >На   подводящей трубе котла , до запорной арматуры установлены :  манометр , прибор для измерения</text>
<text font-size="18.6" transform="translate(1028.80 920.50) scale(0.6105 1)" textLength="138.40" lengthAdjust="spacing" font-style="italic" >температуры .</text>
<text font-size="18.6" transform="translate(1001.00 943.90) scale(0.4835 1)" textLength="15.51" lengthAdjust="spacing" font-style="italic" >4.</text>
<text font-size="18.6" transform="translate(1028.80 943.90) scale(0.6629 1)" textLength="1057.76" lengthAdjust="spacing" font-style="italic" >На отводящей трубе котла ,до запорной арматуры установлены :  манометр , прибор для измерения температуры ,</text>
<text font-size="18.6" transform="translate(1028.80 967.20) scale(0.6823 1)" textLength="894.75" lengthAdjust="spacing" font-style="italic" >предохранительный клапан  D у не менее  50 мм и обвод с обратным клапаном  D у не менее  50 мм.</text>
<line x1="1023.00" y1="972.00" x2="1023.00" y2="1184.80" stroke="#000" stroke-width="3.2" />
<line x1="1021.40" y1="973.60" x2="1733.50" y2="973.60" stroke="#000" stroke-width="3.2" />
<line x1="1050.10" y1="973.60" x2="1050.10" y2="1069.40" stroke="#000" stroke-width="3.2" />
<line x1="1088.40" y1="973.60" x2="1088.40" y2="1184.80" stroke="#000" stroke-width="3.2" />
<line x1="1177.00" y1="973.60" x2="1177.00" y2="1184.80" stroke="#000" stroke-width="3.2" />
<line x1="1234.00" y1="973.60" x2="1234.00" y2="1184.80" stroke="#000" stroke-width="3.2" />
<line x1="1272.80" y1="973.60" x2="1272.80" y2="1184.80" stroke="#000" stroke-width="3.2" />
<line x1="1023.00" y1="992.80" x2="1272.80" y2="992.80" stroke="#000" stroke-width="1.5" />
<line x1="1023.00" y1="1012.00" x2="1272.80" y2="1012.00" stroke="#000" stroke-width="1.5" />
<line x1="1023.00" y1="1031.10" x2="1272.80" y2="1031.10" stroke="#000" stroke-width="1.5" />
<line x1="1023.00" y1="1049.30" x2="1272.80" y2="1049.30" stroke="#000" stroke-width="3.2" />
<line x1="1023.00" y1="1069.40" x2="1272.80" y2="1069.40" stroke="#000" stroke-width="3.2" />
<line x1="1023.00" y1="1089.20" x2="1272.80" y2="1089.20" stroke="#000" stroke-width="1.5" />
<line x1="1023.00" y1="1108.20" x2="1272.80" y2="1108.20" stroke="#000" stroke-width="1.5" />
<line x1="1023.00" y1="1127.50" x2="1272.80" y2="1127.50" stroke="#000" stroke-width="1.5" />
<line x1="1023.00" y1="1146.50" x2="1272.80" y2="1146.50" stroke="#000" stroke-width="1.5" />
<line x1="1023.00" y1="1165.80" x2="1272.80" y2="1165.80" stroke="#000" stroke-width="1.5" />
<line x1="1272.80" y1="1031.10" x2="1733.50" y2="1031.10" stroke="#000" stroke-width="3.2" />
<line x1="1272.80" y1="1126.90" x2="1733.50" y2="1126.90" stroke="#000" stroke-width="3.2" />
<line x1="1541.60" y1="1031.10" x2="1541.60" y2="1184.80" stroke="#000" stroke-width="3.2" />
<line x1="1541.60" y1="1049.30" x2="1733.50" y2="1049.30" stroke="#000" stroke-width="3.2" />
<line x1="1541.60" y1="1107.90" x2="1733.50" y2="1107.90" stroke="#000" stroke-width="3.2" />
<line x1="1599.20" y1="1031.10" x2="1599.20" y2="1107.90" stroke="#000" stroke-width="3.2" />
<line x1="1664.40" y1="1031.10" x2="1664.40" y2="1107.90" stroke="#000" stroke-width="3.2" />
<line x1="1560.80" y1="1049.30" x2="1560.80" y2="1107.90" stroke="#000" stroke-width="1.5" />
<line x1="1580.00" y1="1049.30" x2="1580.00" y2="1107.90" stroke="#000" stroke-width="1.5" />
<line x1="1618.00" y1="1107.90" x2="1618.00" y2="1126.90" stroke="#000" stroke-width="3.2" />
<text font-size="14.7" transform="translate(1025.50 1065.60) scale(0.7976 1)" textLength="31.34" lengthAdjust="spacing" font-style="italic" >Изм.</text>
<text font-size="14.7" transform="translate(1053.30 1065.60) scale(0.8800 1)" textLength="38.75" lengthAdjust="spacing" font-style="italic" >Лист</text>
<text font-size="14.7" word-spacing="3.23" transform="translate(1108.90 1065.60) scale(0.8800 1)" textLength="67.50" lengthAdjust="spacing" font-style="italic" >N докум.</text>
<text font-size="14.7" transform="translate(1190.40 1065.60) scale(0.8800 1)" textLength="40.23" lengthAdjust="spacing" font-style="italic" >Подп.</text>
<text font-size="14.7" transform="translate(1237.30 1065.60) scale(0.8800 1)" textLength="39.20" lengthAdjust="spacing" font-style="italic" >Дата</text>
<text font-size="14.7" transform="translate(1029.40 1085.40) scale(0.8800 1)" textLength="60.34" lengthAdjust="spacing" font-style="italic" >Разраб.</text>
<text font-size="14.7" transform="translate(1029.40 1104.30) scale(0.8800 1)" textLength="39.77" lengthAdjust="spacing" font-style="italic" >Пров.</text>
<text font-size="14.7" transform="translate(1030.70 1123.70) scale(0.8800 1)" textLength="63.18" lengthAdjust="spacing" font-style="italic" >Т.контр.</text>
<text font-size="14.7" transform="translate(1029.40 1162.00) scale(0.8800 1)" textLength="64.66" lengthAdjust="spacing" font-style="italic" >Н.контр.</text>
<text font-size="14.7" transform="translate(1030.30 1180.60) scale(0.8324 1)" textLength="33.40" lengthAdjust="spacing" font-style="italic" >Утв.</text>
<text font-size="36" transform="translate(1298.30 1015.00) scale(0.8000 1)" textLength="510.50" lengthAdjust="spacing" font-style="italic" >КВТУ.060.101.00.000  ВО</text>
<text font-size="14.7" transform="translate(1556.00 1046.60) scale(0.8800 1)" textLength="34.89" lengthAdjust="spacing" font-style="italic" >Лит.</text>
<text font-size="14.7" transform="translate(1611.70 1046.60) scale(0.8800 1)" textLength="46.59" lengthAdjust="spacing" font-style="italic" >Масса</text>
<text font-size="14.7" transform="translate(1668.30 1046.60) scale(0.8800 1)" textLength="72.05" lengthAdjust="spacing" font-style="italic" >Масштаб</text>
<text font-size="20.5" transform="translate(1322.70 1070.70) scale(0.8630 1)" textLength="195.01" lengthAdjust="spacing" font-style="italic" >Котел водогрейный</text>
<text font-size="19.5" transform="translate(1275.00 1099.00) scale(0.8800 1)" textLength="302.84" lengthAdjust="spacing" font-style="italic" >Heatexpert- КВр -0,75- К ( РВР )</text>
<text font-size="18.5" transform="translate(1545.00 1085.00) scale(0.8800 1)" textLength="13.98" lengthAdjust="spacing" font-style="italic" >И</text>
<text font-size="16.5" transform="translate(1691.00 1083.30) scale(0.8003 1)" textLength="32.11" lengthAdjust="spacing" font-style="italic" >1:15</text>
<text font-size="14.7" transform="translate(1552.70 1122.70) scale(0.8800 1)" textLength="38.64" lengthAdjust="spacing" font-style="italic" >Лист</text>
<text font-size="14.7" transform="translate(1600.50 1122.70) scale(0.6116 1)" textLength="8.18" lengthAdjust="spacing" font-style="italic" >1</text>
<text font-size="14.7" transform="translate(1625.00 1122.70) scale(0.8800 1)" textLength="54.89" lengthAdjust="spacing" font-style="italic" >Листов</text>
<text font-size="14.7" transform="translate(1702.50 1122.90) scale(0.9173 1)" textLength="8.18" lengthAdjust="spacing" font-style="italic" >2</text>
<text font-size="13.5" transform="translate(1611.80 1196.30) scale(0.9999 1)" textLength="53.61" lengthAdjust="spacing" font-style="italic" >Формат</text>
<text font-size="13.5" transform="translate(1683.80 1197.00) scale(1.0000 1)" textLength="17.50" lengthAdjust="spacing" font-style="italic" >А3</text>
<rect x="1543.2" y="1139.4" width="29.6" height="12.4" rx="4.5" fill="#000" transform="rotate(-7 1558 1145.6)"/>
<rect x="1543.2" y="1150.8" width="29.6" height="12.4" rx="4.5" fill="#000" transform="rotate(-7 1558 1157)"/>
<rect x="1543.2" y="1162.2" width="29.6" height="12.4" rx="4.5" fill="#000" transform="rotate(-7 1558 1168.4)"/>
<rect x="1548.00" y="1144.00" width="20.00" height="26.00" rx="0" stroke="none" stroke-width="0" fill="#000" />
<line x1="1549" y1="1151.8" x2="1566" y2="1149.0" stroke="#3a3a3a" stroke-width="0.7"/>
<line x1="1549" y1="1164.2" x2="1566" y2="1161.4" stroke="#3a3a3a" stroke-width="0.7"/>
<text x="1579.6" y="1173.2" font-size="47" font-weight="bold" textLength="65" lengthAdjust="spacingAndGlyphs" letter-spacing="4.5" style="stroke:#000;stroke-width:2.7px;stroke-linejoin:miter">KVZR</text>
<text font-size="12.3" transform="translate(1654.20 1155.00) scale(0.9000 1)" textLength="79.11" lengthAdjust="spacing" stroke="#000" stroke-width="0.3">КОТЕЛЬНЫЙ</text>
<text font-size="12.3" word-spacing="2.71" transform="translate(1654.60 1171.70) scale(0.9000 1)" textLength="78.44" lengthAdjust="spacing" stroke="#000" stroke-width="0.3">ЗАВОД РЭП</text>
<g id="wm" opacity="0.72">
<text x="77.6" y="35.9" font-size="14.4" text-anchor="middle" fill="#555" transform="rotate(-25.6 77.0 31.5)">kotel-kv.ru</text>
<text x="334.7" y="35.9" font-size="14.4" text-anchor="middle" fill="#555" transform="rotate(-25.6 334.1 31.5)">kotel-kv.ru</text>
<text x="591.8" y="35.9" font-size="14.4" text-anchor="middle" fill="#555" transform="rotate(-25.6 591.2 31.5)">kotel-kv.ru</text>
<text x="848.9" y="35.9" font-size="14.4" text-anchor="middle" fill="#555" transform="rotate(-25.6 848.3 31.5)">kotel-kv.ru</text>
<text x="1106.0" y="35.9" font-size="14.4" text-anchor="middle" fill="#555" transform="rotate(-25.6 1105.4 31.5)">kotel-kv.ru</text>
<text x="1363.1" y="35.9" font-size="14.4" text-anchor="middle" fill="#555" transform="rotate(-25.6 1362.5 31.5)">kotel-kv.ru</text>
<text x="1620.2" y="35.9" font-size="14.4" text-anchor="middle" fill="#555" transform="rotate(-25.6 1619.6 31.5)">kotel-kv.ru</text>
<text x="77.6" y="207.1" font-size="14.4" text-anchor="middle" fill="#555" transform="rotate(-25.6 77.0 202.7)">kotel-kv.ru</text>
<text x="334.7" y="207.1" font-size="14.4" text-anchor="middle" fill="#555" transform="rotate(-25.6 334.1 202.7)">kotel-kv.ru</text>
<text x="591.8" y="207.1" font-size="14.4" text-anchor="middle" fill="#555" transform="rotate(-25.6 591.2 202.7)">kotel-kv.ru</text>
<text x="848.9" y="207.1" font-size="14.4" text-anchor="middle" fill="#555" transform="rotate(-25.6 848.3 202.7)">kotel-kv.ru</text>
<text x="1106.0" y="207.1" font-size="14.4" text-anchor="middle" fill="#555" transform="rotate(-25.6 1105.4 202.7)">kotel-kv.ru</text>
<text x="1363.1" y="207.1" font-size="14.4" text-anchor="middle" fill="#555" transform="rotate(-25.6 1362.5 202.7)">kotel-kv.ru</text>
<text x="1620.2" y="207.1" font-size="14.4" text-anchor="middle" fill="#555" transform="rotate(-25.6 1619.6 202.7)">kotel-kv.ru</text>
<text x="77.6" y="378.3" font-size="14.4" text-anchor="middle" fill="#555" transform="rotate(-25.6 77.0 373.9)">kotel-kv.ru</text>
<text x="334.7" y="378.3" font-size="14.4" text-anchor="middle" fill="#555" transform="rotate(-25.6 334.1 373.9)">kotel-kv.ru</text>
<text x="591.8" y="378.3" font-size="14.4" text-anchor="middle" fill="#555" transform="rotate(-25.6 591.2 373.9)">kotel-kv.ru</text>
<text x="848.9" y="378.3" font-size="14.4" text-anchor="middle" fill="#555" transform="rotate(-25.6 848.3 373.9)">kotel-kv.ru</text>
<text x="1106.0" y="378.3" font-size="14.4" text-anchor="middle" fill="#555" transform="rotate(-25.6 1105.4 373.9)">kotel-kv.ru</text>
<text x="1363.1" y="378.3" font-size="14.4" text-anchor="middle" fill="#555" transform="rotate(-25.6 1362.5 373.9)">kotel-kv.ru</text>
<text x="1620.2" y="378.3" font-size="14.4" text-anchor="middle" fill="#555" transform="rotate(-25.6 1619.6 373.9)">kotel-kv.ru</text>
<text x="77.6" y="549.5" font-size="14.4" text-anchor="middle" fill="#555" transform="rotate(-25.6 77.0 545.1)">kotel-kv.ru</text>
<text x="334.7" y="549.5" font-size="14.4" text-anchor="middle" fill="#555" transform="rotate(-25.6 334.1 545.1)">kotel-kv.ru</text>
<text x="591.8" y="549.5" font-size="14.4" text-anchor="middle" fill="#555" transform="rotate(-25.6 591.2 545.1)">kotel-kv.ru</text>
<text x="848.9" y="549.5" font-size="14.4" text-anchor="middle" fill="#555" transform="rotate(-25.6 848.3 545.1)">kotel-kv.ru</text>
<text x="1106.0" y="549.5" font-size="14.4" text-anchor="middle" fill="#555" transform="rotate(-25.6 1105.4 545.1)">kotel-kv.ru</text>
<text x="1363.1" y="549.5" font-size="14.4" text-anchor="middle" fill="#555" transform="rotate(-25.6 1362.5 545.1)">kotel-kv.ru</text>
<text x="1620.2" y="549.5" font-size="14.4" text-anchor="middle" fill="#555" transform="rotate(-25.6 1619.6 545.1)">kotel-kv.ru</text>
<text x="77.6" y="720.7" font-size="14.4" text-anchor="middle" fill="#555" transform="rotate(-25.6 77.0 716.3)">kotel-kv.ru</text>
<text x="334.7" y="720.7" font-size="14.4" text-anchor="middle" fill="#555" transform="rotate(-25.6 334.1 716.3)">kotel-kv.ru</text>
<text x="591.8" y="720.7" font-size="14.4" text-anchor="middle" fill="#555" transform="rotate(-25.6 591.2 716.3)">kotel-kv.ru</text>
<text x="848.9" y="720.7" font-size="14.4" text-anchor="middle" fill="#555" transform="rotate(-25.6 848.3 716.3)">kotel-kv.ru</text>
<text x="1106.0" y="720.7" font-size="14.4" text-anchor="middle" fill="#555" transform="rotate(-25.6 1105.4 716.3)">kotel-kv.ru</text>
<text x="1363.1" y="720.7" font-size="14.4" text-anchor="middle" fill="#555" transform="rotate(-25.6 1362.5 716.3)">kotel-kv.ru</text>
<text x="1620.2" y="720.7" font-size="14.4" text-anchor="middle" fill="#555" transform="rotate(-25.6 1619.6 716.3)">kotel-kv.ru</text>
<text x="77.6" y="891.9" font-size="14.4" text-anchor="middle" fill="#555" transform="rotate(-25.6 77.0 887.5)">kotel-kv.ru</text>
<text x="334.7" y="891.9" font-size="14.4" text-anchor="middle" fill="#555" transform="rotate(-25.6 334.1 887.5)">kotel-kv.ru</text>
<text x="591.8" y="891.9" font-size="14.4" text-anchor="middle" fill="#555" transform="rotate(-25.6 591.2 887.5)">kotel-kv.ru</text>
<text x="848.9" y="891.9" font-size="14.4" text-anchor="middle" fill="#555" transform="rotate(-25.6 848.3 887.5)">kotel-kv.ru</text>
<text x="1106.0" y="891.9" font-size="14.4" text-anchor="middle" fill="#555" transform="rotate(-25.6 1105.4 887.5)">kotel-kv.ru</text>
<text x="1363.1" y="891.9" font-size="14.4" text-anchor="middle" fill="#555" transform="rotate(-25.6 1362.5 887.5)">kotel-kv.ru</text>
<text x="1620.2" y="891.9" font-size="14.4" text-anchor="middle" fill="#555" transform="rotate(-25.6 1619.6 887.5)">kotel-kv.ru</text>
<text x="77.6" y="1063.1" font-size="14.4" text-anchor="middle" fill="#555" transform="rotate(-25.6 77.0 1058.7)">kotel-kv.ru</text>
<text x="334.7" y="1063.1" font-size="14.4" text-anchor="middle" fill="#555" transform="rotate(-25.6 334.1 1058.7)">kotel-kv.ru</text>
<text x="591.8" y="1063.1" font-size="14.4" text-anchor="middle" fill="#555" transform="rotate(-25.6 591.2 1058.7)">kotel-kv.ru</text>
<text x="848.9" y="1063.1" font-size="14.4" text-anchor="middle" fill="#555" transform="rotate(-25.6 848.3 1058.7)">kotel-kv.ru</text>
<text x="1106.0" y="1063.1" font-size="14.4" text-anchor="middle" fill="#555" transform="rotate(-25.6 1105.4 1058.7)">kotel-kv.ru</text>
<text x="1363.1" y="1063.1" font-size="14.4" text-anchor="middle" fill="#555" transform="rotate(-25.6 1362.5 1058.7)">kotel-kv.ru</text>
<text x="1620.2" y="1063.1" font-size="14.4" text-anchor="middle" fill="#555" transform="rotate(-25.6 1619.6 1058.7)">kotel-kv.ru</text>
</g>
</g>
</svg>
</body></html>
